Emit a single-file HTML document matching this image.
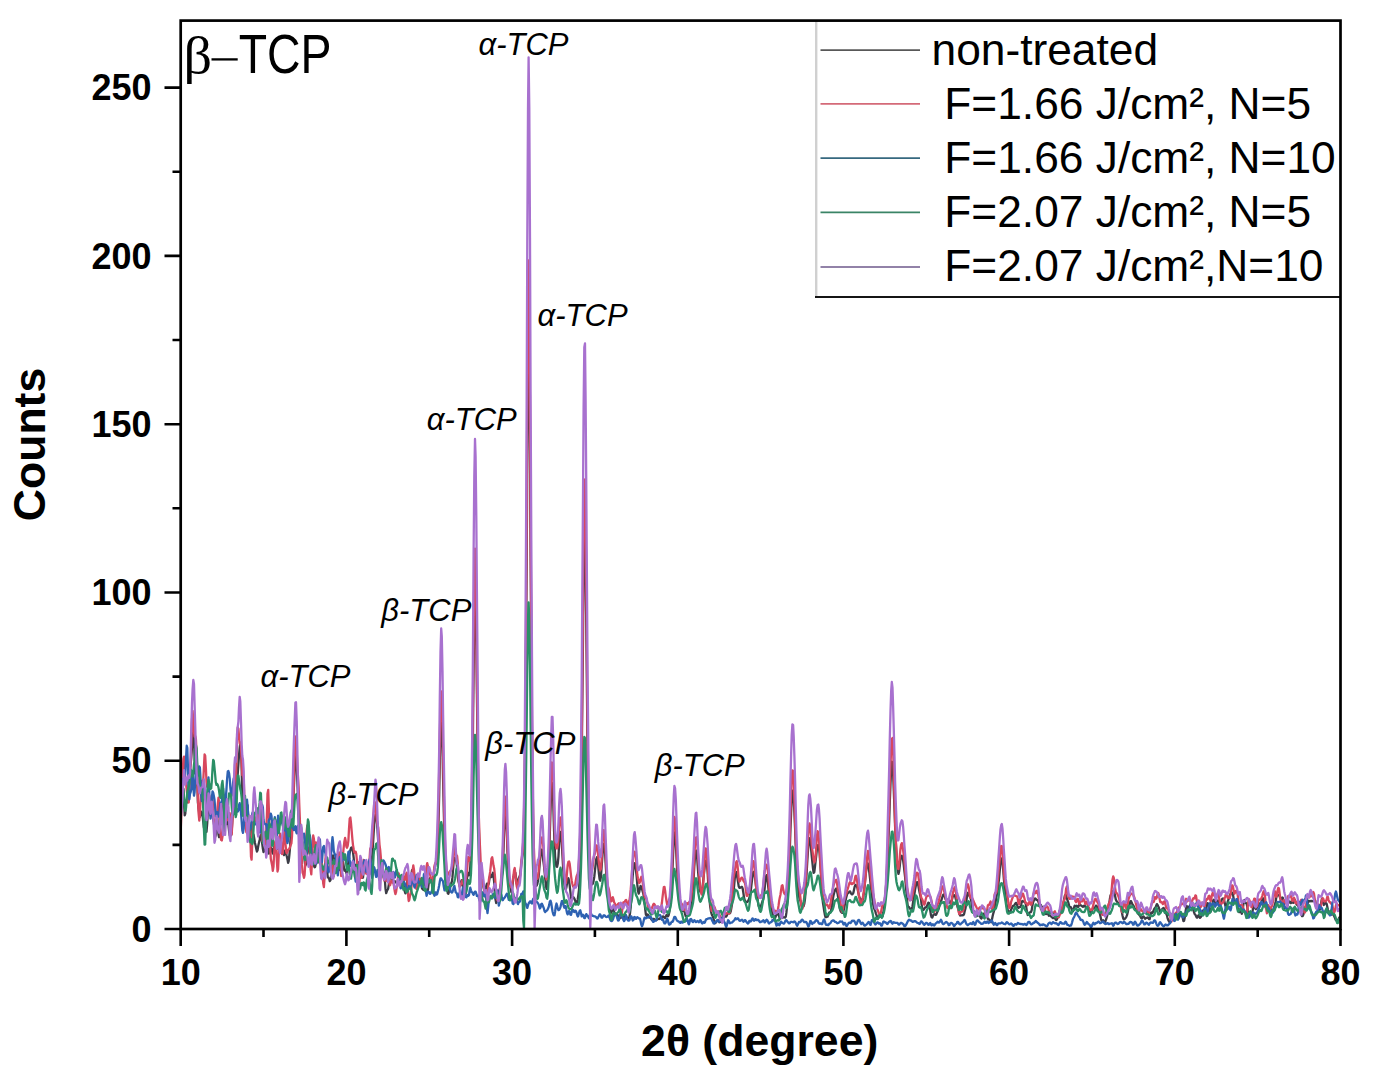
<!DOCTYPE html>
<html><head><meta charset="utf-8"><style>
html,body{margin:0;padding:0;background:#fff;width:1373px;height:1076px;overflow:hidden}
svg{display:block}
text{fill:#000}
</style></head><body>
<svg width="1373" height="1076" viewBox="0 0 1373 1076"><defs><clipPath id="c"><rect x="181" y="22" width="1159" height="907"/></clipPath></defs><g clip-path="url(#c)"><g fill="none" stroke-width="2.3" stroke-linejoin="round" style="filter:blur(0.45px)"><polyline stroke="#3c3c46" points="180.7,804.3 181.4,797.8 182.0,793.0 182.7,788.2 183.4,788.8 184.0,801.3 184.7,815.4 185.3,813.6 186.0,801.8 186.7,799.6 187.3,802.3 188.0,797.2 188.7,785.8 189.3,774.7 190.0,768.4 190.6,764.4 191.3,757.3 192.0,747.2 192.6,735.9 193.3,726.2 194.0,734.2 194.6,760.6 195.3,773.8 195.9,763.3 196.6,761.5 197.3,783.1 197.9,802.4 198.6,808.9 199.3,813.8 199.9,816.9 200.6,814.4 201.2,811.6 201.9,812.4 202.6,815.6 203.2,821.4 203.9,827.6 204.6,830.5 205.2,831.0 205.9,831.8 206.5,831.9 207.2,823.7 207.9,811.5 208.5,808.1 209.2,810.4 209.9,812.8 210.5,815.3 211.2,814.8 211.8,812.9 212.5,815.7 213.2,819.6 213.8,822.0 214.5,829.1 215.2,836.9 215.8,834.8 216.5,823.6 217.2,817.4 217.8,824.2 218.5,834.7 219.1,837.2 219.8,827.6 220.5,818.9 221.1,820.9 221.8,823.4 222.5,817.5 223.1,807.2 223.8,798.4 224.4,797.6 225.1,808.5 225.8,820.4 226.4,824.0 227.1,822.6 227.8,822.0 228.4,824.9 229.1,831.5 229.7,835.6 230.4,834.7 231.1,835.3 231.7,831.6 232.4,818.1 233.1,806.6 233.7,805.7 234.4,805.9 235.0,793.6 235.7,775.5 236.4,772.1 237.0,777.8 237.7,774.2 238.4,764.2 239.0,755.6 239.7,747.7 240.3,742.7 241.0,747.7 241.7,770.4 242.3,799.1 243.0,814.1 243.7,814.8 244.3,810.1 245.0,810.0 245.6,814.7 246.3,813.2 247.0,804.3 247.6,805.5 248.3,818.8 249.0,829.2 249.6,833.7 250.3,834.8 251.0,830.7 251.6,826.6 252.3,829.8 252.9,833.4 253.6,834.8 254.3,838.6 254.9,842.7 255.6,845.5 256.3,848.9 256.9,851.6 257.6,850.2 258.2,846.3 258.9,843.0 259.6,839.9 260.2,836.5 260.9,835.0 261.6,838.1 262.2,843.7 262.9,848.9 263.5,852.0 264.2,851.3 264.9,849.4 265.5,849.6 266.2,846.6 266.9,840.3 267.5,840.7 268.2,849.2 268.8,853.6 269.5,849.0 270.2,846.3 270.8,847.7 271.5,848.6 272.2,851.8 272.8,853.5 273.5,849.8 274.1,846.6 274.8,846.7 275.5,844.3 276.1,840.8 276.8,844.9 277.5,848.8 278.1,845.0 278.8,841.1 279.4,841.1 280.1,842.7 280.8,844.0 281.4,845.4 282.1,846.9 282.8,848.6 283.4,852.8 284.1,855.1 284.8,852.1 285.4,850.3 286.1,853.1 286.7,856.1 287.4,859.0 288.1,862.9 288.7,861.2 289.4,854.7 290.1,846.9 290.7,835.2 291.4,821.6 292.0,812.1 292.7,806.3 293.4,797.5 294.0,784.8 294.7,767.8 295.4,752.9 296.0,754.7 296.7,766.5 297.3,779.7 298.0,798.2 298.7,814.7 299.3,821.4 300.0,827.3 300.7,837.1 301.3,844.3 302.0,847.9 302.6,849.7 303.3,849.8 304.0,853.1 304.6,860.7 305.3,865.8 306.0,864.3 306.6,858.2 307.3,851.2 307.9,847.6 308.6,847.8 309.3,850.6 309.9,854.0 310.6,853.2 311.3,847.1 311.9,845.3 312.6,853.0 313.2,861.6 313.9,865.6 314.6,867.3 315.2,866.8 315.9,863.0 316.6,857.3 317.2,853.1 317.9,853.0 318.6,853.5 319.2,853.4 319.9,853.7 320.5,856.3 321.2,862.7 321.9,867.7 322.5,868.5 323.2,869.3 323.9,871.2 324.5,871.2 325.2,867.5 325.8,863.1 326.5,865.3 327.2,872.5 327.8,877.1 328.5,877.9 329.2,879.0 329.8,881.2 330.5,880.2 331.1,875.2 331.8,867.4 332.5,859.0 333.1,855.4 333.8,858.0 334.5,862.7 335.1,864.6 335.8,861.5 336.4,856.9 337.1,854.6 337.8,858.8 338.4,867.0 339.1,870.1 339.8,868.9 340.4,868.7 341.1,870.1 341.7,868.3 342.4,863.6 343.1,862.0 343.7,866.0 344.4,870.7 345.1,870.8 345.7,869.8 346.4,873.1 347.0,874.6 347.7,868.6 348.4,860.9 349.0,856.2 349.7,853.0 350.4,850.0 351.0,848.0 351.7,847.5 352.4,848.9 353.0,851.8 353.7,858.0 354.3,866.0 355.0,869.3 355.7,866.9 356.3,864.7 357.0,867.6 357.7,870.9 358.3,867.6 359.0,862.1 359.6,864.2 360.3,871.8 361.0,874.4 361.6,874.3 362.3,877.8 363.0,877.7 363.6,871.8 364.3,868.3 364.9,868.9 365.6,868.0 366.3,864.7 366.9,862.8 367.6,864.6 368.3,869.2 368.9,873.8 369.6,874.1 370.2,869.2 370.9,863.5 371.6,860.6 372.2,856.1 372.9,845.9 373.6,834.0 374.2,824.6 374.9,817.7 375.5,814.9 376.2,816.5 376.9,820.7 377.5,829.4 378.2,841.5 378.9,854.0 379.5,865.3 380.2,871.1 380.8,870.7 381.5,871.2 382.2,874.5 382.8,874.6 383.5,872.3 384.2,873.1 384.8,879.2 385.5,888.7 386.2,893.2 386.8,891.3 387.5,889.8 388.1,888.9 388.8,884.6 389.5,878.4 390.1,876.3 390.8,877.5 391.5,878.1 392.1,879.3 392.8,881.5 393.4,882.6 394.1,882.0 394.8,881.1 395.4,881.6 396.1,882.5 396.8,883.3 397.4,884.3 398.1,883.1 398.7,880.0 399.4,878.3 400.1,878.0 400.7,878.1 401.4,880.7 402.1,884.5 402.7,885.4 403.4,884.6 404.0,886.7 404.7,891.2 405.4,893.4 406.0,891.3 406.7,885.9 407.4,879.3 408.0,876.3 408.7,878.8 409.3,883.8 410.0,886.5 410.7,883.2 411.3,875.7 412.0,870.2 412.7,870.9 413.3,875.0 414.0,879.2 414.6,883.4 415.3,886.5 416.0,885.9 416.6,882.5 417.3,879.8 418.0,879.1 418.6,878.2 419.3,878.2 420.0,879.8 420.6,881.3 421.3,884.3 421.9,887.9 422.6,889.3 423.3,889.7 423.9,890.1 424.6,889.6 425.3,888.7 425.9,889.4 426.6,891.3 427.2,892.2 427.9,890.0 428.6,884.4 429.2,879.5 429.9,878.1 430.6,879.0 431.2,881.0 431.9,883.0 432.5,881.8 433.2,877.6 433.9,873.0 434.5,868.7 435.2,865.5 435.9,863.3 436.5,858.4 437.2,850.1 437.8,839.3 438.5,821.9 439.2,794.4 439.8,760.2 440.5,730.6 441.2,717.3 441.8,724.4 442.5,747.9 443.1,780.2 443.8,812.2 444.5,837.3 445.1,855.6 445.8,868.1 446.5,876.9 447.1,886.5 447.8,893.4 448.4,893.7 449.1,891.2 449.8,889.3 450.4,886.5 451.1,883.5 451.8,881.8 452.4,877.9 453.1,869.1 453.8,860.5 454.4,857.9 455.1,858.2 455.7,858.8 456.4,861.6 457.1,867.6 457.7,875.2 458.4,881.1 459.1,883.7 459.7,885.9 460.4,885.8 461.0,881.7 461.7,880.1 462.4,883.3 463.0,885.6 463.7,888.2 464.4,893.6 465.0,896.6 465.7,893.3 466.3,886.0 467.0,878.3 467.7,873.1 468.3,872.9 469.0,875.3 469.7,874.1 470.3,866.0 471.0,848.9 471.6,820.3 472.3,778.9 473.0,726.9 473.6,670.2 474.3,619.1 475.0,590.4 475.6,597.7 476.3,638.2 476.9,693.3 477.6,746.2 478.3,791.8 478.9,829.3 479.6,856.0 480.3,872.2 480.9,879.4 481.6,880.1 482.2,880.2 482.9,883.2 483.6,887.3 484.2,890.0 484.9,891.1 485.6,889.9 486.2,886.4 486.9,883.7 487.5,883.9 488.2,884.9 488.9,883.2 489.5,878.7 490.2,875.1 490.9,875.8 491.5,877.0 492.2,874.6 492.9,872.8 493.5,875.8 494.2,882.5 494.8,891.4 495.5,899.6 496.2,903.0 496.8,900.9 497.5,896.4 498.2,892.6 498.8,890.8 499.5,889.8 500.1,888.3 500.8,886.0 501.5,880.9 502.1,873.0 502.8,864.0 503.5,850.9 504.1,832.8 504.8,817.8 505.4,812.6 506.1,817.5 506.8,831.4 507.4,850.1 508.1,866.3 508.8,876.3 509.4,881.1 510.1,884.1 510.7,888.6 511.4,892.3 512.1,890.3 512.7,883.4 513.4,877.1 514.1,874.0 514.7,872.3 515.4,872.9 516.0,877.6 516.7,883.4 517.4,885.6 518.0,882.5 518.7,878.5 519.4,877.0 520.0,875.2 520.7,870.8 521.3,864.7 522.0,859.4 522.7,854.0 523.3,843.4 524.0,822.6 524.7,786.3 525.3,730.1 526.0,653.4 526.7,558.8 527.3,456.4 528.0,370.1 528.6,333.2 529.3,364.0 530.0,447.2 530.6,553.8 531.3,657.1 532.0,739.7 532.6,798.7 533.3,838.2 533.9,860.8 534.6,872.8 535.3,880.7 535.9,885.2 536.6,885.7 537.3,884.0 537.9,881.3 538.6,876.8 539.2,870.2 539.9,861.9 540.6,854.0 541.2,849.6 541.9,849.9 542.6,854.1 543.2,860.0 543.9,865.2 544.5,870.9 545.2,878.3 545.9,885.4 546.5,888.9 547.2,887.6 547.9,882.0 548.5,872.2 549.2,856.3 549.8,834.2 550.5,810.9 551.2,792.3 551.8,782.7 552.5,785.9 553.2,801.1 553.8,823.0 554.5,843.4 555.1,856.3 555.8,863.2 556.5,866.7 557.1,866.8 557.8,863.6 558.5,856.1 559.1,845.0 559.8,835.8 560.5,831.9 561.1,834.1 561.8,842.7 562.4,854.9 563.1,866.9 563.8,877.1 564.4,884.4 565.1,888.6 565.8,889.5 566.4,887.2 567.1,882.7 567.7,878.8 568.4,878.2 569.1,881.1 569.7,885.7 570.4,891.8 571.1,897.9 571.7,899.7 572.4,898.1 573.0,897.0 573.7,897.5 574.4,898.7 575.0,900.2 575.7,902.3 576.4,904.0 577.0,903.1 577.7,899.7 578.3,895.2 579.0,889.6 579.7,878.0 580.3,853.7 581.0,814.9 581.7,764.0 582.3,703.8 583.0,637.7 583.6,574.6 584.3,532.5 585.0,529.8 585.6,566.2 586.3,627.2 587.0,695.7 587.6,757.9 588.3,806.8 588.9,841.2 589.6,862.9 590.3,875.4 590.9,881.5 591.6,883.8 592.3,884.3 592.9,883.6 593.6,880.9 594.3,876.7 594.9,871.0 595.6,864.6 596.2,859.3 596.9,857.3 597.6,860.0 598.2,866.4 598.9,873.7 599.6,879.1 600.2,880.7 600.9,877.1 601.5,868.8 602.2,859.0 602.9,849.9 603.5,843.9 604.2,843.8 604.9,850.0 605.5,860.9 606.2,873.3 606.8,883.9 607.5,891.3 608.2,896.8 608.8,902.0 609.5,907.3 610.2,911.4 610.8,912.9 611.5,912.1 612.1,910.0 612.8,908.7 613.5,909.9 614.1,911.9 614.8,913.2 615.5,914.2 616.1,914.9 616.8,914.8 617.4,914.8 618.1,915.7 618.8,916.5 619.4,917.3 620.1,918.2 620.8,917.9 621.4,916.3 622.1,915.0 622.7,915.6 623.4,917.7 624.1,917.9 624.7,915.6 625.4,914.8 626.1,916.5 626.7,918.2 627.4,918.8 628.1,919.1 628.7,918.7 629.4,917.0 630.0,913.4 630.7,907.0 631.4,897.1 632.0,885.9 632.7,876.0 633.4,868.2 634.0,863.7 634.7,863.3 635.3,865.9 636.0,870.5 636.7,876.9 637.3,884.4 638.0,890.9 638.7,893.6 639.3,891.8 640.0,888.0 640.6,885.8 641.3,886.8 642.0,889.2 642.6,891.3 643.3,893.5 644.0,897.9 644.6,903.9 645.3,909.9 645.9,914.6 646.6,915.7 647.3,914.5 647.9,914.6 648.6,916.3 649.3,917.5 649.9,917.0 650.6,917.3 651.2,919.0 651.9,920.0 652.6,919.5 653.2,918.8 653.9,918.8 654.6,919.5 655.2,920.0 655.9,920.1 656.5,919.9 657.2,919.5 657.9,918.9 658.5,918.8 659.2,919.1 659.9,918.7 660.5,917.9 661.2,917.7 661.9,917.4 662.5,916.6 663.2,916.4 663.8,917.0 664.5,917.9 665.2,918.0 665.8,916.4 666.5,915.0 667.2,915.5 667.8,916.4 668.5,915.6 669.1,913.3 669.8,909.4 670.5,903.6 671.1,895.0 671.8,883.0 672.5,869.1 673.1,854.4 673.8,840.8 674.4,832.4 675.1,833.2 675.8,842.4 676.4,855.8 677.1,869.4 677.8,880.3 678.4,888.4 679.1,895.2 679.7,901.5 680.4,906.8 681.1,909.9 681.7,910.8 682.4,910.7 683.1,910.9 683.7,911.0 684.4,911.5 685.0,913.8 685.7,916.1 686.4,916.3 687.0,915.9 687.7,915.8 688.4,915.2 689.0,913.3 689.7,910.6 690.3,907.8 691.0,905.6 691.7,903.3 692.3,898.1 693.0,888.9 693.7,877.4 694.3,866.2 695.0,857.2 695.7,851.7 696.3,850.6 697.0,855.4 697.6,864.6 698.3,874.1 699.0,882.2 699.6,888.5 700.3,891.8 701.0,892.1 701.6,891.1 702.3,889.0 702.9,884.1 703.6,876.9 704.3,870.3 704.9,865.3 705.6,861.6 706.3,860.4 706.9,863.6 707.6,872.0 708.2,883.0 708.9,892.9 709.6,900.4 710.2,906.6 710.9,911.2 711.6,913.9 712.2,915.5 712.9,916.6 713.5,918.5 714.2,921.3 714.9,923.0 715.5,923.0 716.2,921.8 716.9,920.9 717.5,920.4 718.2,920.2 718.8,921.2 719.5,922.3 720.2,922.0 720.8,921.6 721.5,922.0 722.2,921.8 722.8,920.2 723.5,918.0 724.1,916.7 724.8,916.4 725.5,916.5 726.1,916.7 726.8,915.6 727.5,913.8 728.1,913.0 728.8,912.9 729.5,913.4 730.1,913.2 730.8,911.1 731.4,907.7 732.1,903.8 732.8,899.0 733.4,893.1 734.1,885.8 734.8,878.0 735.4,872.7 736.1,871.9 736.7,874.4 737.4,877.9 738.1,882.3 738.7,886.3 739.4,887.9 740.1,887.8 740.7,887.4 741.4,886.9 742.0,886.8 742.7,888.7 743.4,893.0 744.0,897.6 744.7,900.1 745.4,901.2 746.0,902.0 746.7,902.2 747.3,901.9 748.0,901.1 748.7,899.8 749.3,898.2 750.0,895.4 750.7,891.5 751.3,886.2 752.0,880.2 752.6,874.9 753.3,871.9 754.0,872.2 754.6,875.1 755.3,879.9 756.0,885.8 756.6,891.9 757.3,897.3 757.9,901.9 758.6,905.8 759.3,907.6 759.9,907.0 760.6,906.0 761.3,905.0 761.9,903.0 762.6,900.8 763.3,899.0 763.9,895.5 764.6,889.1 765.2,882.0 765.9,876.8 766.6,875.1 767.2,877.8 767.9,883.7 768.6,890.1 769.2,894.4 769.9,897.3 770.5,901.2 771.2,906.3 771.9,910.6 772.5,913.5 773.2,915.5 773.9,917.5 774.5,918.6 775.2,917.8 775.8,916.1 776.5,914.8 777.2,913.8 777.8,913.5 778.5,914.3 779.2,916.6 779.8,918.8 780.5,918.5 781.1,917.3 781.8,917.6 782.5,917.8 783.1,917.4 783.8,917.2 784.5,917.3 785.1,917.6 785.8,916.6 786.4,912.7 787.1,905.6 787.8,895.5 788.4,883.1 789.1,868.4 789.8,850.5 790.4,830.9 791.1,813.1 791.7,798.9 792.4,790.6 793.1,791.0 793.7,799.4 794.4,812.7 795.1,828.6 795.7,845.5 796.4,862.2 797.1,876.4 797.7,886.0 798.4,891.9 799.0,896.3 799.7,899.2 800.4,900.8 801.0,902.9 801.7,905.7 802.4,907.0 803.0,906.8 803.7,906.0 804.3,903.8 805.0,898.9 805.7,890.7 806.3,879.0 807.0,866.4 807.7,855.3 808.3,846.1 809.0,839.6 809.6,838.2 810.3,841.7 811.0,848.0 811.6,855.0 812.3,861.7 813.0,868.3 813.6,872.8 814.3,872.2 814.9,867.3 815.6,861.1 816.3,855.1 816.9,849.4 817.6,845.5 818.3,845.0 818.9,847.7 819.6,853.3 820.2,862.5 820.9,874.1 821.6,885.8 822.2,895.7 822.9,902.5 823.6,906.9 824.2,911.0 824.9,914.9 825.5,917.1 826.2,917.1 826.9,916.8 827.5,916.7 828.2,915.3 828.9,913.1 829.5,912.3 830.2,912.4 830.9,911.5 831.5,908.6 832.2,904.0 832.8,899.4 833.5,895.6 834.2,892.7 834.8,890.9 835.5,889.3 836.2,888.5 836.8,890.1 837.5,893.4 838.1,897.1 838.8,901.6 839.5,906.4 840.1,909.7 840.8,911.5 841.5,912.4 842.1,912.8 842.8,912.8 843.4,911.4 844.1,908.5 844.8,904.8 845.4,901.2 846.1,897.9 846.8,895.4 847.4,893.6 848.1,893.0 848.7,892.6 849.4,891.6 850.1,891.4 850.7,892.7 851.4,894.1 852.1,894.3 852.7,894.1 853.4,892.7 854.0,889.7 854.7,886.6 855.4,885.0 856.0,885.1 856.7,886.0 857.4,887.9 858.0,891.1 858.7,894.6 859.3,897.0 860.0,898.1 860.7,899.1 861.3,900.1 862.0,900.6 862.7,899.9 863.3,897.2 864.0,892.1 864.7,885.5 865.3,878.7 866.0,871.9 866.6,865.9 867.3,862.8 868.0,863.9 868.6,867.6 869.3,872.2 870.0,878.1 870.6,884.5 871.3,890.0 871.9,895.2 872.6,900.6 873.3,905.1 873.9,908.1 874.6,909.6 875.3,911.3 875.9,913.6 876.6,915.4 877.2,917.0 877.9,918.3 878.6,917.6 879.2,916.0 879.9,916.0 880.6,916.4 881.2,916.9 881.9,917.3 882.5,916.4 883.2,913.1 883.9,908.8 884.5,904.2 885.2,897.7 885.9,889.0 886.5,879.2 887.2,867.9 887.8,853.8 888.5,837.8 889.2,820.8 889.8,802.0 890.5,783.4 891.2,769.3 891.8,761.7 892.5,762.5 893.1,773.0 893.8,790.6 894.5,809.5 895.1,826.4 895.8,840.5 896.5,853.2 897.1,864.3 897.8,871.4 898.5,873.9 899.1,871.5 899.8,865.7 900.4,859.6 901.1,856.2 901.8,855.8 902.4,857.2 903.1,860.4 903.8,865.3 904.4,871.2 905.1,877.2 905.7,883.9 906.4,892.1 907.1,900.4 907.7,905.6 908.4,907.1 909.1,907.2 909.7,908.2 910.4,909.2 911.0,909.6 911.7,909.1 912.4,906.7 913.0,902.7 913.7,898.5 914.4,894.4 915.0,890.1 915.7,886.6 916.3,884.0 917.0,882.1 917.7,882.3 918.3,885.4 919.0,889.6 919.7,892.9 920.3,895.5 921.0,899.4 921.6,904.6 922.3,908.4 923.0,909.9 923.6,909.8 924.3,908.8 925.0,907.6 925.6,907.3 926.3,907.2 926.9,906.1 927.6,904.3 928.3,902.7 928.9,902.8 929.6,906.1 930.3,910.9 930.9,914.9 931.6,917.3 932.3,917.5 932.9,915.9 933.6,914.7 934.2,914.3 934.9,914.2 935.6,914.8 936.2,914.6 936.9,912.9 937.6,911.3 938.2,910.0 938.9,908.0 939.5,905.5 940.2,903.1 940.9,901.5 941.5,900.0 942.2,897.6 942.9,895.2 943.5,894.5 944.2,895.0 944.8,896.7 945.5,899.0 946.2,900.0 946.8,899.8 947.5,899.6 948.2,899.6 948.8,900.0 949.5,901.3 950.1,902.8 950.8,903.3 951.5,901.8 952.1,898.9 952.8,896.5 953.5,895.4 954.1,895.2 954.8,895.8 955.4,897.4 956.1,900.2 956.8,903.6 957.4,906.4 958.1,908.4 958.8,910.8 959.4,914.1 960.1,915.5 960.7,915.2 961.4,915.3 962.1,915.3 962.7,915.1 963.4,915.1 964.1,913.9 964.7,911.3 965.4,908.7 966.1,904.7 966.7,898.6 967.4,894.0 968.0,892.7 968.7,893.8 969.4,895.6 970.0,897.1 970.7,898.5 971.4,901.7 972.0,906.7 972.7,910.6 973.3,911.5 974.0,911.1 974.7,912.0 975.3,913.9 976.0,915.6 976.7,916.0 977.3,915.5 978.0,915.2 978.6,915.4 979.3,915.6 980.0,916.3 980.6,917.8 981.3,918.6 982.0,917.6 982.6,915.4 983.3,913.7 983.9,913.8 984.6,915.1 985.3,915.7 985.9,915.1 986.6,915.6 987.3,917.4 987.9,918.9 988.6,919.5 989.2,919.5 989.9,920.2 990.6,921.9 991.2,922.2 991.9,919.7 992.6,916.3 993.2,913.8 993.9,911.4 994.5,908.1 995.2,904.2 995.9,900.2 996.5,896.6 997.2,893.3 997.9,889.0 998.5,883.5 999.2,877.1 999.9,869.2 1000.5,861.8 1001.2,858.3 1001.8,859.1 1002.5,863.1 1003.2,870.0 1003.8,878.1 1004.5,885.5 1005.2,892.3 1005.8,898.8 1006.5,904.0 1007.1,907.3 1007.8,909.6 1008.5,911.7 1009.1,913.3 1009.8,912.9 1010.5,911.1 1011.1,909.6 1011.8,908.3 1012.4,906.6 1013.1,905.9 1013.8,905.7 1014.4,905.0 1015.1,904.0 1015.8,902.8 1016.4,902.8 1017.1,904.9 1017.7,907.4 1018.4,908.0 1019.1,907.4 1019.7,907.1 1020.4,906.9 1021.1,905.1 1021.7,902.1 1022.4,900.9 1023.0,901.7 1023.7,901.6 1024.4,901.0 1025.0,901.5 1025.7,903.8 1026.4,907.9 1027.0,912.3 1027.7,915.0 1028.3,914.8 1029.0,913.0 1029.7,912.3 1030.3,912.4 1031.0,912.0 1031.7,910.1 1032.3,906.3 1033.0,902.6 1033.7,900.8 1034.3,899.7 1035.0,898.5 1035.6,898.6 1036.3,899.7 1037.0,900.1 1037.6,900.1 1038.3,901.3 1039.0,903.6 1039.6,905.3 1040.3,905.1 1040.9,905.0 1041.6,906.3 1042.3,907.3 1042.9,907.2 1043.6,908.1 1044.3,910.3 1044.9,912.4 1045.6,913.9 1046.2,914.1 1046.9,912.5 1047.6,912.0 1048.2,914.2 1048.9,915.8 1049.6,915.5 1050.2,915.6 1050.9,916.3 1051.5,916.9 1052.2,917.5 1052.9,918.0 1053.5,918.0 1054.2,917.7 1054.9,918.0 1055.5,919.2 1056.2,920.1 1056.8,919.6 1057.5,918.1 1058.2,916.7 1058.8,915.5 1059.5,913.9 1060.2,912.5 1060.8,911.8 1061.5,911.3 1062.1,910.3 1062.8,907.7 1063.5,903.6 1064.1,899.2 1064.8,895.8 1065.5,894.6 1066.1,895.8 1066.8,898.1 1067.4,900.0 1068.1,901.8 1068.8,904.4 1069.4,906.7 1070.1,907.1 1070.8,907.1 1071.4,908.4 1072.1,910.5 1072.8,911.4 1073.4,910.2 1074.1,907.4 1074.7,905.7 1075.4,906.2 1076.1,906.5 1076.7,905.7 1077.4,906.0 1078.1,907.1 1078.7,905.9 1079.4,904.1 1080.0,904.3 1080.7,905.3 1081.4,905.7 1082.0,906.1 1082.7,906.8 1083.4,906.6 1084.0,905.7 1084.7,905.7 1085.3,906.6 1086.0,907.3 1086.7,906.8 1087.3,906.7 1088.0,907.6 1088.7,908.4 1089.3,909.5 1090.0,911.5 1090.6,912.7 1091.3,912.1 1092.0,910.6 1092.6,909.1 1093.3,908.0 1094.0,908.0 1094.6,908.3 1095.3,907.2 1095.9,905.7 1096.6,905.9 1097.3,907.4 1097.9,908.9 1098.6,910.1 1099.3,911.4 1099.9,913.8 1100.6,917.0 1101.2,919.8 1101.9,921.1 1102.6,920.7 1103.2,920.3 1103.9,921.6 1104.6,922.8 1105.2,922.0 1105.9,919.9 1106.6,917.8 1107.2,915.7 1107.9,912.8 1108.5,908.8 1109.2,903.9 1109.9,898.7 1110.5,895.4 1111.2,894.7 1111.9,894.8 1112.5,893.2 1113.2,890.9 1113.8,890.5 1114.5,892.9 1115.2,896.5 1115.8,899.5 1116.5,901.0 1117.2,901.9 1117.8,902.6 1118.5,902.8 1119.1,903.5 1119.8,904.9 1120.5,906.1 1121.1,908.3 1121.8,911.8 1122.5,915.5 1123.1,918.1 1123.8,919.3 1124.4,919.3 1125.1,918.6 1125.8,917.8 1126.4,916.7 1127.1,914.9 1127.8,911.9 1128.4,909.1 1129.1,906.9 1129.7,904.1 1130.4,901.4 1131.1,901.1 1131.7,902.8 1132.4,904.3 1133.1,905.2 1133.7,906.2 1134.4,907.8 1135.0,908.8 1135.7,909.5 1136.4,910.5 1137.0,911.5 1137.7,912.7 1138.4,913.8 1139.0,914.6 1139.7,915.4 1140.4,916.5 1141.0,917.9 1141.7,918.5 1142.3,917.7 1143.0,916.6 1143.7,916.5 1144.3,917.7 1145.0,918.7 1145.7,918.2 1146.3,917.8 1147.0,917.8 1147.6,917.4 1148.3,917.6 1149.0,919.1 1149.6,919.2 1150.3,916.2 1151.0,912.9 1151.6,912.4 1152.3,913.0 1152.9,912.2 1153.6,910.4 1154.3,908.8 1154.9,908.1 1155.6,907.4 1156.3,905.4 1156.9,904.1 1157.6,904.9 1158.2,906.3 1158.9,907.7 1159.6,910.1 1160.2,911.9 1160.9,911.8 1161.6,910.3 1162.2,909.0 1162.9,908.4 1163.5,908.0 1164.2,908.4 1164.9,910.2 1165.5,912.4 1166.2,913.8 1166.9,915.3 1167.5,917.8 1168.2,919.9 1168.8,921.0 1169.5,922.0 1170.2,922.3 1170.8,920.3 1171.5,917.3 1172.2,916.8 1172.8,918.2 1173.5,918.2 1174.2,917.1 1174.8,916.2 1175.5,915.8 1176.1,915.6 1176.8,915.4 1177.5,915.5 1178.1,916.8 1178.8,917.4 1179.5,915.6 1180.1,913.6 1180.8,913.8 1181.4,914.9 1182.1,916.0 1182.8,918.2 1183.4,921.1 1184.1,920.9 1184.8,917.3 1185.4,912.6 1186.1,907.9 1186.7,905.9 1187.4,907.3 1188.1,908.3 1188.7,907.3 1189.4,906.2 1190.1,905.4 1190.7,903.9 1191.4,903.8 1192.0,906.1 1192.7,908.6 1193.4,910.2 1194.0,912.2 1194.7,914.0 1195.4,914.7 1196.0,916.1 1196.7,917.6 1197.3,917.5 1198.0,915.8 1198.7,915.2 1199.3,916.7 1200.0,917.8 1200.7,917.2 1201.3,915.9 1202.0,914.1 1202.6,911.9 1203.3,910.2 1204.0,910.2 1204.6,911.6 1205.3,911.9 1206.0,909.8 1206.6,905.9 1207.3,903.2 1208.0,903.3 1208.6,905.1 1209.3,908.3 1209.9,911.1 1210.6,911.7 1211.3,910.2 1211.9,907.1 1212.6,903.1 1213.3,900.1 1213.9,899.7 1214.6,901.5 1215.2,903.7 1215.9,904.4 1216.6,903.2 1217.2,901.5 1217.9,900.5 1218.6,900.8 1219.2,903.0 1219.9,905.3 1220.5,904.9 1221.2,901.9 1221.9,899.2 1222.5,898.6 1223.2,898.5 1223.9,899.1 1224.5,901.8 1225.2,905.1 1225.8,907.2 1226.5,906.9 1227.2,904.3 1227.8,901.3 1228.5,899.3 1229.2,897.4 1229.8,895.0 1230.5,893.8 1231.1,894.1 1231.8,893.5 1232.5,892.8 1233.1,895.2 1233.8,899.5 1234.5,901.9 1235.1,902.6 1235.8,902.9 1236.4,903.1 1237.1,904.8 1237.8,908.4 1238.4,911.6 1239.1,912.2 1239.8,910.8 1240.4,910.1 1241.1,912.0 1241.8,913.8 1242.4,912.2 1243.1,907.0 1243.7,901.5 1244.4,900.0 1245.1,901.9 1245.7,903.0 1246.4,903.3 1247.1,905.7 1247.7,910.4 1248.4,914.5 1249.0,916.3 1249.7,915.6 1250.4,913.4 1251.0,912.7 1251.7,913.4 1252.4,912.1 1253.0,908.8 1253.7,906.0 1254.3,905.4 1255.0,907.2 1255.7,909.1 1256.3,908.8 1257.0,907.4 1257.7,906.4 1258.3,904.7 1259.0,903.2 1259.6,904.0 1260.3,905.2 1261.0,903.8 1261.6,901.2 1262.3,899.2 1263.0,898.1 1263.6,899.4 1264.3,902.9 1264.9,905.8 1265.6,907.5 1266.3,908.0 1266.9,907.4 1267.6,906.7 1268.3,907.2 1268.9,908.4 1269.6,908.3 1270.2,907.8 1270.9,909.4 1271.6,911.1 1272.2,911.3 1272.9,910.5 1273.6,909.1 1274.2,907.2 1274.9,904.9 1275.6,901.8 1276.2,898.0 1276.9,895.3 1277.5,894.8 1278.2,895.1 1278.9,895.2 1279.5,896.1 1280.2,898.2 1280.9,899.6 1281.5,898.8 1282.2,897.5 1282.8,897.8 1283.5,901.3 1284.2,906.0 1284.8,908.0 1285.5,907.6 1286.2,907.5 1286.8,907.0 1287.5,905.4 1288.1,903.5 1288.8,902.2 1289.5,901.4 1290.1,901.8 1290.8,903.1 1291.5,902.8 1292.1,902.0 1292.8,902.7 1293.4,902.8 1294.1,900.7 1294.8,899.6 1295.4,901.4 1296.1,903.5 1296.8,904.7 1297.4,905.2 1298.1,905.5 1298.7,905.9 1299.4,907.3 1300.1,909.7 1300.7,912.1 1301.4,914.5 1302.1,916.2 1302.7,916.1 1303.4,914.5 1304.0,912.3 1304.7,909.3 1305.4,906.9 1306.0,906.1 1306.7,905.8 1307.4,904.4 1308.0,902.1 1308.7,900.8 1309.4,901.2 1310.0,901.4 1310.7,900.8 1311.3,900.8 1312.0,901.3 1312.7,901.2 1313.3,901.0 1314.0,901.1 1314.7,900.4 1315.3,900.7 1316.0,904.4 1316.6,908.3 1317.3,908.9 1318.0,908.4 1318.6,909.3 1319.3,910.2 1320.0,909.0 1320.6,906.1 1321.3,902.0 1321.9,898.6 1322.6,898.9 1323.3,902.7 1323.9,905.0 1324.6,903.9 1325.3,902.9 1325.9,903.1 1326.6,903.7 1327.2,906.2 1327.9,909.8 1328.6,911.9 1329.2,912.4 1329.9,912.8 1330.6,913.7 1331.2,914.7 1331.9,914.5 1332.5,914.0 1333.2,914.5 1333.9,915.6 1334.5,916.9 1335.2,918.7 1335.9,920.2 1336.5,920.3 1337.2,920.2 1337.8,920.1 1338.5,919.2 1339.2,917.6 1339.8,917.4 1340.5,917.8"/><polyline stroke="#d8475e" points="180.7,830.9 181.4,813.4 182.0,790.6 182.7,772.0 183.4,758.7 184.0,756.6 184.7,769.3 185.3,780.1 186.0,783.7 186.7,789.7 187.3,795.4 188.0,800.0 188.7,802.5 189.3,795.8 190.0,778.7 190.6,762.4 191.3,743.2 192.0,719.7 192.6,710.9 193.3,720.3 194.0,732.0 194.6,736.5 195.3,736.2 195.9,738.8 196.6,753.3 197.3,777.3 197.9,798.6 198.6,813.4 199.3,820.7 199.9,815.3 200.6,799.5 201.2,784.2 201.9,780.8 202.6,785.2 203.2,781.9 203.9,767.6 204.6,754.4 205.2,755.7 205.9,768.4 206.5,781.8 207.2,786.9 207.9,785.9 208.5,788.9 209.2,798.6 209.9,807.4 210.5,807.3 211.2,801.0 211.8,795.5 212.5,798.8 213.2,810.3 213.8,822.0 214.5,827.8 215.2,829.6 215.8,827.4 216.5,821.2 217.2,813.5 217.8,804.1 218.5,797.7 219.1,802.7 219.8,819.0 220.5,834.5 221.1,839.9 221.8,840.5 222.5,836.4 223.1,824.7 223.8,815.1 224.4,807.7 225.1,800.1 225.8,801.1 226.4,812.0 227.1,820.2 227.8,819.4 228.4,817.5 229.1,815.5 229.7,813.1 230.4,821.2 231.1,833.9 231.7,834.3 232.4,821.9 233.1,807.0 233.7,805.1 234.4,813.0 235.0,809.8 235.7,790.5 236.4,763.3 237.0,738.7 237.7,727.4 238.4,728.5 239.0,736.2 239.7,743.3 240.3,742.7 241.0,746.6 241.7,762.7 242.3,775.2 243.0,775.0 243.7,778.3 244.3,796.2 245.0,813.8 245.6,824.0 246.3,832.1 247.0,833.0 247.6,828.5 248.3,825.1 249.0,822.7 249.6,822.8 250.3,836.2 251.0,856.7 251.6,859.7 252.3,840.7 252.9,821.8 253.6,818.5 254.3,822.3 254.9,821.6 255.6,817.3 256.3,817.4 256.9,821.9 257.6,820.7 258.2,811.8 258.9,808.3 259.6,807.8 260.2,804.0 260.9,812.1 261.6,832.0 262.2,840.8 262.9,833.8 263.5,832.0 264.2,841.7 264.9,845.6 265.5,839.1 266.2,831.2 266.9,815.2 267.5,793.7 268.2,789.9 268.8,807.5 269.5,829.2 270.2,846.9 270.8,858.8 271.5,862.2 272.2,865.7 272.8,870.9 273.5,866.6 274.1,853.7 274.8,843.9 275.5,841.1 276.1,846.3 276.8,859.9 277.5,871.5 278.1,869.1 278.8,853.2 279.4,838.0 280.1,833.6 280.8,838.9 281.4,848.2 282.1,854.2 282.8,853.1 283.4,841.8 284.1,827.5 284.8,828.5 285.4,842.1 286.1,851.2 286.7,853.2 287.4,852.0 288.1,849.7 288.7,849.4 289.4,848.9 290.1,846.7 290.7,845.0 291.4,843.4 292.0,836.3 292.7,820.6 293.4,799.4 294.0,776.0 294.7,752.3 295.4,736.5 296.0,737.4 296.7,750.4 297.3,765.0 298.0,776.9 298.7,788.0 299.3,805.4 300.0,822.4 300.7,832.0 301.3,846.4 302.0,864.9 302.6,872.7 303.3,874.7 304.0,877.8 304.6,874.9 305.3,863.1 306.0,846.6 306.6,831.5 307.3,825.3 307.9,829.7 308.6,836.0 309.3,843.2 309.9,855.2 310.6,869.3 311.3,874.4 311.9,863.4 312.6,845.2 313.2,835.5 313.9,838.8 314.6,846.8 315.2,847.9 315.9,842.3 316.6,843.7 317.2,854.5 317.9,862.5 318.6,860.7 319.2,854.2 319.9,853.3 320.5,856.6 321.2,858.6 321.9,863.0 322.5,872.9 323.2,883.4 323.9,887.1 324.5,878.4 325.2,861.9 325.8,855.2 326.5,861.6 327.2,865.7 327.8,866.7 328.5,869.7 329.2,871.0 329.8,868.4 330.5,864.5 331.1,863.1 331.8,862.2 332.5,863.7 333.1,871.3 333.8,876.3 334.5,870.4 335.1,861.6 335.8,860.0 336.4,864.2 337.1,866.7 337.8,862.9 338.4,856.7 339.1,852.4 339.8,853.9 340.4,864.8 341.1,876.0 341.7,874.7 342.4,863.5 343.1,853.9 343.7,847.4 344.4,841.5 345.1,837.9 345.7,840.8 346.4,846.6 347.0,847.7 347.7,845.8 348.4,840.7 349.0,828.9 349.7,818.6 350.4,817.5 351.0,823.0 351.7,831.1 352.4,839.4 353.0,845.1 353.7,849.2 354.3,852.2 355.0,852.9 355.7,851.8 356.3,854.0 357.0,861.3 357.7,871.6 358.3,883.4 359.0,887.2 359.6,880.0 360.3,873.3 361.0,874.6 361.6,877.8 362.3,873.8 363.0,865.0 363.6,859.9 364.3,861.7 364.9,867.3 365.6,872.5 366.3,873.8 366.9,871.9 367.6,871.9 368.3,874.1 368.9,870.3 369.6,858.4 370.2,848.9 370.9,847.5 371.6,847.5 372.2,841.2 372.9,828.0 373.6,813.3 374.2,803.3 374.9,802.3 375.5,807.2 376.2,813.7 376.9,820.7 377.5,824.7 378.2,827.2 378.9,835.3 379.5,844.6 380.2,849.8 380.8,856.9 381.5,864.2 382.2,867.2 382.8,871.1 383.5,877.7 384.2,880.4 384.8,878.1 385.5,878.9 386.2,881.0 386.8,876.9 387.5,873.6 388.1,876.0 388.8,880.2 389.5,884.0 390.1,885.3 390.8,882.3 391.5,880.5 392.1,882.2 392.8,882.5 393.4,882.8 394.1,886.5 394.8,891.4 395.4,894.1 396.1,891.9 396.8,886.8 397.4,882.3 398.1,877.0 398.7,873.5 399.4,878.1 400.1,885.0 400.7,887.4 401.4,885.1 402.1,881.3 402.7,878.2 403.4,875.7 404.0,876.9 404.7,880.2 405.4,879.2 406.0,874.4 406.7,872.8 407.4,881.3 408.0,894.1 408.7,901.0 409.3,899.9 410.0,895.9 410.7,892.9 411.3,888.7 412.0,880.1 412.7,869.6 413.3,865.3 414.0,869.9 414.6,876.8 415.3,883.0 416.0,888.2 416.6,889.1 417.3,884.7 418.0,880.0 418.6,879.2 419.3,879.5 420.0,878.5 420.6,879.1 421.3,881.5 421.9,883.8 422.6,884.1 423.3,882.4 423.9,882.6 424.6,885.0 425.3,882.9 425.9,874.6 426.6,866.2 427.2,863.1 427.9,866.3 428.6,870.2 429.2,872.1 429.9,873.5 430.6,876.8 431.2,881.7 431.9,883.4 432.5,881.1 433.2,876.7 433.9,870.9 434.5,865.7 435.2,863.2 435.9,862.8 436.5,861.1 437.2,852.6 437.8,833.3 438.5,803.7 439.2,769.3 439.8,736.2 440.5,707.6 441.2,691.3 441.8,697.3 442.5,721.7 443.1,754.4 443.8,791.3 444.5,825.6 445.1,847.6 445.8,859.3 446.5,868.4 447.1,874.6 447.8,875.0 448.4,872.9 449.1,872.3 449.8,871.5 450.4,870.8 451.1,870.4 451.8,868.8 452.4,866.3 453.1,862.2 453.8,855.0 454.4,848.2 455.1,848.1 455.7,852.9 456.4,855.3 457.1,856.1 457.7,862.3 458.4,873.5 459.1,883.3 459.7,886.9 460.4,885.3 461.0,884.2 461.7,883.1 462.4,880.2 463.0,880.7 463.7,884.8 464.4,886.4 465.0,883.6 465.7,879.8 466.3,876.7 467.0,871.1 467.7,862.5 468.3,856.9 469.0,857.1 469.7,860.7 470.3,859.0 471.0,841.0 471.6,805.2 472.3,756.4 473.0,697.9 473.6,633.8 474.3,577.0 475.0,548.7 475.6,562.9 476.3,610.9 476.9,672.7 477.6,733.7 478.3,783.7 478.9,817.9 479.6,838.5 480.3,853.0 480.9,867.2 481.6,878.4 482.2,883.2 482.9,884.7 483.6,886.8 484.2,890.6 484.9,894.1 485.6,896.6 486.2,899.2 486.9,899.7 487.5,894.8 488.2,886.3 488.9,879.5 489.5,876.0 490.2,871.7 490.9,864.7 491.5,858.6 492.2,857.3 492.9,861.1 493.5,865.6 494.2,868.6 494.8,874.2 495.5,883.4 496.2,892.5 496.8,898.5 497.5,900.2 498.2,899.1 498.8,896.7 499.5,893.4 500.1,888.7 500.8,881.9 501.5,873.8 502.1,865.2 502.8,854.2 503.5,836.4 504.1,814.2 504.8,798.5 505.4,796.6 506.1,807.9 506.8,827.1 507.4,845.0 508.1,856.8 508.8,867.1 509.4,878.0 510.1,884.2 510.7,886.5 511.4,887.5 512.1,885.1 512.7,880.7 513.4,875.9 514.1,870.0 514.7,868.0 515.4,873.6 516.0,881.1 516.7,886.2 517.4,888.8 518.0,886.4 518.7,880.9 519.4,878.4 520.0,876.5 520.7,869.6 521.3,860.9 522.0,856.1 522.7,851.6 523.3,839.0 524.0,814.2 524.7,774.6 525.3,714.6 526.0,627.5 526.7,514.9 527.3,394.5 528.0,296.4 528.6,260.5 529.3,306.1 530.0,406.9 530.6,523.6 531.3,633.2 532.0,721.9 532.6,783.0 533.3,821.6 533.9,848.1 534.6,865.5 535.3,874.3 535.9,877.5 536.6,878.4 537.3,878.8 537.9,877.2 538.6,871.9 539.2,863.7 539.9,853.0 540.6,843.6 541.2,838.8 541.9,837.4 542.6,839.1 543.2,845.6 543.9,856.0 544.5,866.3 545.2,873.4 545.9,877.4 546.5,879.4 547.2,879.0 547.9,873.1 548.5,860.6 549.2,842.1 549.8,818.3 550.5,793.2 551.2,773.1 551.8,762.4 552.5,763.0 553.2,775.5 553.8,798.7 554.5,823.9 555.1,840.0 555.8,846.0 556.5,848.3 557.1,848.5 557.8,845.1 558.5,837.5 559.1,826.5 559.8,818.3 560.5,817.4 561.1,821.4 561.8,829.0 562.4,841.8 563.1,856.1 563.8,866.4 564.4,873.8 565.1,880.5 565.8,883.3 566.4,879.5 567.1,871.8 567.7,864.9 568.4,861.8 569.1,861.5 569.7,863.8 570.4,869.9 571.1,876.3 571.7,880.7 572.4,884.0 573.0,886.2 573.7,887.3 574.4,887.6 575.0,885.8 575.7,881.3 576.4,877.1 577.0,875.2 577.7,873.9 578.3,869.7 579.0,861.2 579.7,849.8 580.3,830.9 581.0,796.6 581.7,745.5 582.3,678.4 583.0,600.5 583.6,528.3 584.3,482.7 585.0,479.4 585.6,518.9 586.3,586.2 587.0,661.7 587.6,730.4 588.3,785.0 588.9,824.3 589.6,849.7 590.3,864.1 590.9,870.5 591.6,871.3 592.3,869.2 592.9,865.0 593.6,859.2 594.3,855.3 594.9,853.4 595.6,849.5 596.2,845.4 596.9,845.6 597.6,849.8 598.2,855.8 598.9,862.4 599.6,867.9 600.2,870.3 600.9,868.7 601.5,861.1 602.2,848.5 602.9,837.0 603.5,830.2 604.2,830.3 604.9,838.8 605.5,851.6 606.2,864.2 606.8,875.8 607.5,883.7 608.2,887.1 608.8,889.0 609.5,892.5 610.2,897.7 610.8,901.5 611.5,901.2 612.1,898.2 612.8,897.2 613.5,899.5 614.1,902.2 614.8,903.5 615.5,905.2 616.1,906.6 616.8,906.3 617.4,905.1 618.1,903.9 618.8,903.3 619.4,905.0 620.1,910.3 620.8,915.9 621.4,916.1 622.1,911.3 622.7,905.6 623.4,902.3 624.1,902.1 624.7,902.0 625.4,900.5 626.1,900.0 626.7,901.5 627.4,903.6 628.1,905.0 628.7,903.7 629.4,900.6 630.0,896.6 630.7,889.9 631.4,880.9 632.0,871.3 632.7,862.5 633.4,856.5 634.0,853.5 634.7,851.7 635.3,852.4 636.0,857.9 636.7,867.1 637.3,874.8 638.0,878.7 638.7,881.1 639.3,883.1 640.0,882.0 640.6,878.8 641.3,876.8 642.0,877.4 642.6,881.7 643.3,888.2 644.0,893.6 644.6,896.8 645.3,898.0 645.9,898.2 646.6,899.5 647.3,902.7 647.9,906.1 648.6,907.8 649.3,908.0 649.9,908.8 650.6,909.9 651.2,909.5 651.9,908.2 652.6,906.5 653.2,904.6 653.9,903.8 654.6,904.6 655.2,905.8 655.9,906.6 656.5,907.4 657.2,908.0 657.9,907.8 658.5,907.4 659.2,908.1 659.9,909.1 660.5,909.1 661.2,907.0 661.9,902.8 662.5,897.3 663.2,891.6 663.8,887.1 664.5,886.9 665.2,891.3 665.8,896.3 666.5,901.0 667.2,904.9 667.8,905.5 668.5,902.6 669.1,899.6 669.8,898.4 670.5,895.6 671.1,886.8 671.8,871.6 672.5,854.1 673.1,838.0 673.8,824.6 674.4,817.0 675.1,818.8 675.8,829.0 676.4,844.2 677.1,859.4 677.8,871.2 678.4,880.9 679.1,890.6 679.7,899.0 680.4,903.1 681.1,903.5 681.7,903.7 682.4,905.5 683.1,908.3 683.7,910.0 684.4,910.3 685.0,909.5 685.7,907.7 686.4,905.0 687.0,903.1 687.7,903.6 688.4,904.0 689.0,902.4 689.7,901.4 690.3,901.4 691.0,899.0 691.7,893.1 692.3,886.3 693.0,879.4 693.7,870.1 694.3,857.4 695.0,845.0 695.7,838.0 696.3,837.3 697.0,840.7 697.6,848.4 698.3,859.4 699.0,870.1 699.6,879.6 700.3,887.3 701.0,892.5 701.6,894.5 702.3,893.2 702.9,887.7 703.6,878.0 704.3,866.0 704.9,854.7 705.6,848.3 706.3,849.1 706.9,855.6 707.6,865.6 708.2,875.9 708.9,884.2 709.6,891.4 710.2,899.2 710.9,906.7 711.6,910.8 712.2,910.6 712.9,908.3 713.5,906.6 714.2,906.5 714.9,908.0 715.5,910.2 716.2,912.4 716.9,913.9 717.5,913.4 718.2,911.5 718.8,911.4 719.5,914.5 720.2,917.1 720.8,917.3 721.5,917.5 722.2,917.9 722.8,917.5 723.5,915.6 724.1,913.2 724.8,912.6 725.5,913.7 726.1,913.9 726.8,913.1 727.5,912.5 728.1,913.1 728.8,913.8 729.5,913.0 730.1,910.7 730.8,907.8 731.4,904.0 732.1,897.1 732.8,887.3 733.4,878.4 734.1,874.2 734.8,871.8 735.4,867.1 736.1,862.5 736.7,861.1 737.4,864.2 738.1,871.7 738.7,879.1 739.4,881.6 740.1,880.8 740.7,879.0 741.4,877.9 742.0,877.7 742.7,878.7 743.4,880.7 744.0,881.8 744.7,882.2 745.4,885.2 746.0,891.4 746.7,895.9 747.3,895.9 748.0,893.8 748.7,891.9 749.3,890.3 750.0,886.4 750.7,879.7 751.3,873.2 752.0,868.2 752.6,864.0 753.3,861.1 754.0,862.4 754.6,868.5 755.3,877.8 756.0,886.1 756.6,890.7 757.3,892.7 757.9,894.5 758.6,896.8 759.3,897.7 759.9,896.4 760.6,895.3 761.3,895.5 761.9,894.2 762.6,890.9 763.3,885.8 763.9,879.1 764.6,872.7 765.2,868.4 765.9,865.7 766.6,864.7 767.2,866.6 767.9,871.3 768.6,878.8 769.2,887.9 769.9,896.0 770.5,902.3 771.2,905.9 771.9,906.6 772.5,907.0 773.2,909.6 773.9,912.1 774.5,911.8 775.2,910.7 775.8,911.0 776.5,911.3 777.2,911.4 777.8,910.3 778.5,905.9 779.2,900.6 779.8,897.4 780.5,894.5 781.1,889.9 781.8,885.7 782.5,885.3 783.1,888.7 783.8,892.3 784.5,893.9 785.1,894.3 785.8,893.8 786.4,892.3 787.1,889.1 787.8,882.1 788.4,870.7 789.1,855.4 789.8,836.4 790.4,814.5 791.1,793.4 791.7,777.9 792.4,770.3 793.1,770.9 793.7,781.1 794.4,800.1 795.1,822.1 795.7,839.8 796.4,851.7 797.1,862.2 797.7,872.9 798.4,880.9 799.0,885.4 799.7,890.3 800.4,897.3 801.0,904.1 801.7,908.1 802.4,908.8 803.0,907.0 803.7,902.3 804.3,895.7 805.0,888.0 805.7,879.0 806.3,868.8 807.0,856.9 807.7,844.8 808.3,834.5 809.0,826.9 809.6,823.4 810.3,826.6 811.0,834.8 811.6,843.4 812.3,849.7 813.0,854.5 813.6,859.4 814.3,862.4 814.9,861.2 815.6,855.8 816.3,846.5 816.9,836.5 817.6,831.1 818.3,832.8 818.9,839.3 819.6,848.5 820.2,859.8 820.9,871.1 821.6,880.2 822.2,887.8 822.9,894.0 823.6,898.8 824.2,902.0 824.9,904.0 825.5,905.3 826.2,905.1 826.9,904.5 827.5,905.0 828.2,906.5 828.9,908.2 829.5,907.9 830.2,905.1 830.9,901.1 831.5,896.8 832.2,892.7 832.8,889.0 833.5,885.8 834.2,883.4 834.8,881.6 835.5,880.4 836.2,879.7 836.8,881.7 837.5,886.9 838.1,891.3 838.8,893.6 839.5,896.2 840.1,899.9 840.8,905.2 841.5,910.1 842.1,911.8 842.8,909.5 843.4,904.4 844.1,900.2 844.8,898.0 845.4,896.0 846.1,894.1 846.8,892.1 847.4,889.8 848.1,887.7 848.7,885.5 849.4,883.2 850.1,882.0 850.7,882.7 851.4,884.1 852.1,884.0 852.7,883.1 853.4,883.4 854.0,883.3 854.7,879.9 855.4,876.2 856.0,875.8 856.7,878.1 857.4,883.2 858.0,889.9 858.7,894.6 859.3,897.8 860.0,901.7 860.7,904.5 861.3,904.2 862.0,901.8 862.7,898.3 863.3,894.8 864.0,890.7 864.7,885.1 865.3,878.6 866.0,871.6 866.6,863.6 867.3,855.6 868.0,851.0 868.6,852.6 869.3,859.0 870.0,867.1 870.6,874.8 871.3,881.9 871.9,887.9 872.6,891.7 873.3,894.6 873.9,897.7 874.6,902.0 875.3,906.1 875.9,908.2 876.6,908.7 877.2,909.2 877.9,910.5 878.6,912.7 879.2,914.4 879.9,914.9 880.6,914.0 881.2,911.1 881.9,907.6 882.5,905.0 883.2,903.2 883.9,901.4 884.5,899.6 885.2,896.6 885.9,889.3 886.5,877.2 887.2,861.9 887.8,844.7 888.5,825.8 889.2,804.9 889.8,783.5 890.5,764.2 891.2,748.9 891.8,739.2 892.5,738.0 893.1,749.4 893.8,772.2 894.5,798.7 895.1,822.6 895.8,840.5 896.5,853.0 897.1,862.6 897.8,868.7 898.5,869.0 899.1,864.1 899.8,856.5 900.4,849.4 901.1,844.7 901.8,843.1 902.4,845.5 903.1,850.4 903.8,855.3 904.4,861.1 905.1,869.3 905.7,877.6 906.4,883.6 907.1,887.7 907.7,890.6 908.4,894.2 909.1,898.5 909.7,900.2 910.4,899.8 911.0,900.0 911.7,899.1 912.4,896.1 913.0,892.6 913.7,889.3 914.4,886.0 915.0,881.9 915.7,876.8 916.3,873.3 917.0,872.6 917.7,873.1 918.3,875.6 919.0,880.6 919.7,886.8 920.3,892.7 921.0,896.6 921.6,898.3 922.3,899.4 923.0,901.4 923.6,904.1 924.3,904.8 925.0,903.0 925.6,899.8 926.3,897.2 926.9,896.2 927.6,895.7 928.3,895.7 928.9,895.6 929.6,895.5 930.3,896.5 930.9,898.4 931.6,901.2 932.3,904.9 932.9,909.1 933.6,912.0 934.2,912.0 934.9,910.7 935.6,910.0 936.2,908.7 936.9,905.8 937.6,904.0 938.2,903.3 938.9,901.0 939.5,897.8 940.2,895.3 940.9,892.2 941.5,888.5 942.2,886.4 942.9,886.4 943.5,888.4 944.2,891.4 944.8,893.6 945.5,896.5 946.2,901.8 946.8,906.1 947.5,908.0 948.2,908.1 948.8,907.3 949.5,907.3 950.1,908.2 950.8,906.9 951.5,901.8 952.1,896.8 952.8,893.6 953.5,890.7 954.1,888.3 954.8,887.1 955.4,888.6 956.1,893.4 956.8,899.3 957.4,904.2 958.1,908.7 958.8,912.3 959.4,914.1 960.1,913.5 960.7,911.9 961.4,911.4 962.1,911.5 962.7,911.1 963.4,909.9 964.1,906.3 964.7,900.0 965.4,893.8 966.1,889.6 966.7,886.8 967.4,884.7 968.0,884.3 968.7,887.1 969.4,892.6 970.0,896.9 970.7,897.7 971.4,897.2 972.0,897.8 972.7,899.1 973.3,900.5 974.0,902.1 974.7,903.8 975.3,905.2 976.0,906.3 976.7,907.9 977.3,909.4 978.0,909.7 978.6,909.0 979.3,908.0 980.0,907.2 980.6,907.4 981.3,907.9 982.0,908.2 982.6,908.3 983.3,907.9 983.9,908.1 984.6,909.7 985.3,912.7 985.9,914.8 986.6,913.4 987.3,908.9 987.9,905.3 988.6,904.7 989.2,904.9 989.9,903.3 990.6,901.5 991.2,903.8 991.9,908.5 992.6,910.7 993.2,908.0 993.9,901.0 994.5,894.9 995.2,893.0 995.9,893.3 996.5,892.0 997.2,887.0 997.9,879.4 998.5,871.9 999.2,864.8 999.9,857.8 1000.5,850.9 1001.2,846.0 1001.8,846.2 1002.5,852.3 1003.2,861.8 1003.8,871.7 1004.5,879.6 1005.2,884.1 1005.8,886.5 1006.5,889.3 1007.1,893.1 1007.8,898.2 1008.5,903.5 1009.1,907.3 1009.8,908.0 1010.5,905.5 1011.1,901.8 1011.8,899.8 1012.4,898.2 1013.1,896.3 1013.8,895.6 1014.4,895.6 1015.1,895.6 1015.8,896.0 1016.4,896.2 1017.1,896.3 1017.7,898.5 1018.4,902.8 1019.1,904.2 1019.7,901.4 1020.4,898.8 1021.1,897.7 1021.7,896.1 1022.4,893.7 1023.0,893.6 1023.7,895.8 1024.4,898.2 1025.0,901.0 1025.7,903.1 1026.4,903.2 1027.0,903.7 1027.7,905.2 1028.3,904.7 1029.0,902.3 1029.7,901.6 1030.3,903.2 1031.0,904.7 1031.7,903.8 1032.3,900.8 1033.0,897.1 1033.7,893.3 1034.3,890.8 1035.0,891.4 1035.6,893.2 1036.3,892.7 1037.0,890.8 1037.6,891.2 1038.3,895.0 1039.0,899.4 1039.6,903.4 1040.3,907.0 1040.9,909.1 1041.6,908.8 1042.3,907.9 1042.9,908.4 1043.6,909.9 1044.3,910.8 1044.9,910.1 1045.6,907.6 1046.2,905.9 1046.9,906.3 1047.6,906.9 1048.2,908.1 1048.9,911.2 1049.6,912.9 1050.2,912.2 1050.9,912.2 1051.5,913.7 1052.2,914.5 1052.9,914.7 1053.5,913.8 1054.2,912.0 1054.9,911.3 1055.5,913.4 1056.2,916.6 1056.8,917.4 1057.5,916.1 1058.2,916.6 1058.8,917.4 1059.5,915.4 1060.2,913.5 1060.8,913.6 1061.5,912.0 1062.1,907.6 1062.8,903.9 1063.5,901.6 1064.1,900.2 1064.8,898.5 1065.5,894.3 1066.1,888.8 1066.8,886.5 1067.4,889.3 1068.1,894.1 1068.8,897.6 1069.4,898.8 1070.1,898.8 1070.8,898.4 1071.4,897.5 1072.1,896.5 1072.8,896.6 1073.4,896.7 1074.1,896.8 1074.7,898.5 1075.4,901.1 1076.1,902.0 1076.7,900.5 1077.4,898.8 1078.1,899.0 1078.7,902.0 1079.4,904.0 1080.0,902.5 1080.7,900.8 1081.4,901.1 1082.0,901.4 1082.7,900.1 1083.4,898.8 1084.0,899.6 1084.7,901.9 1085.3,903.9 1086.0,903.6 1086.7,901.7 1087.3,902.3 1088.0,905.1 1088.7,907.1 1089.3,908.6 1090.0,910.0 1090.6,910.2 1091.3,909.9 1092.0,909.6 1092.6,908.0 1093.3,904.9 1094.0,902.2 1094.6,900.1 1095.3,898.8 1095.9,899.1 1096.6,900.7 1097.3,901.9 1097.9,902.7 1098.6,904.7 1099.3,908.0 1099.9,909.9 1100.6,910.8 1101.2,912.5 1101.9,914.2 1102.6,914.8 1103.2,914.9 1103.9,914.9 1104.6,914.2 1105.2,913.6 1105.9,913.0 1106.6,911.3 1107.2,909.0 1107.9,906.3 1108.5,904.1 1109.2,903.0 1109.9,901.5 1110.5,898.4 1111.2,893.6 1111.9,886.5 1112.5,879.5 1113.2,876.4 1113.8,878.0 1114.5,883.0 1115.2,888.6 1115.8,891.9 1116.5,893.0 1117.2,893.8 1117.8,894.9 1118.5,896.4 1119.1,898.5 1119.8,901.3 1120.5,904.5 1121.1,908.1 1121.8,911.7 1122.5,912.4 1123.1,908.6 1123.8,904.1 1124.4,902.1 1125.1,903.0 1125.8,906.3 1126.4,909.0 1127.1,907.8 1127.8,903.6 1128.4,899.8 1129.1,897.3 1129.7,895.6 1130.4,894.6 1131.1,893.9 1131.7,893.7 1132.4,893.9 1133.1,894.7 1133.7,896.1 1134.4,897.6 1135.0,900.0 1135.7,902.7 1136.4,905.4 1137.0,908.7 1137.7,911.1 1138.4,912.7 1139.0,913.0 1139.7,910.7 1140.4,908.9 1141.0,909.4 1141.7,910.6 1142.3,911.3 1143.0,911.6 1143.7,911.9 1144.3,912.6 1145.0,912.2 1145.7,910.3 1146.3,908.7 1147.0,909.9 1147.6,913.2 1148.3,914.3 1149.0,912.2 1149.6,910.1 1150.3,908.8 1151.0,906.5 1151.6,904.0 1152.3,902.2 1152.9,902.0 1153.6,902.2 1154.3,900.1 1154.9,897.2 1155.6,897.4 1156.3,898.6 1156.9,897.0 1157.6,893.9 1158.2,892.9 1158.9,894.9 1159.6,898.7 1160.2,901.9 1160.9,902.3 1161.6,901.9 1162.2,902.9 1162.9,904.1 1163.5,903.3 1164.2,901.4 1164.9,901.5 1165.5,904.5 1166.2,907.9 1166.9,908.5 1167.5,907.7 1168.2,909.3 1168.8,911.4 1169.5,913.1 1170.2,916.3 1170.8,920.5 1171.5,921.6 1172.2,919.7 1172.8,917.5 1173.5,916.5 1174.2,915.8 1174.8,914.4 1175.5,913.1 1176.1,912.7 1176.8,912.0 1177.5,910.2 1178.1,908.3 1178.8,907.5 1179.5,907.4 1180.1,906.4 1180.8,904.6 1181.4,903.1 1182.1,903.5 1182.8,904.2 1183.4,904.1 1184.1,903.9 1184.8,902.7 1185.4,900.6 1186.1,898.8 1186.7,899.5 1187.4,901.2 1188.1,900.5 1188.7,899.4 1189.4,899.7 1190.1,900.3 1190.7,901.3 1191.4,902.2 1192.0,901.6 1192.7,899.4 1193.4,898.1 1194.0,898.5 1194.7,898.0 1195.4,895.4 1196.0,895.7 1196.7,900.2 1197.3,903.7 1198.0,903.1 1198.7,900.7 1199.3,901.2 1200.0,905.1 1200.7,907.2 1201.3,905.1 1202.0,902.8 1202.6,902.6 1203.3,904.3 1204.0,906.3 1204.6,906.1 1205.3,903.7 1206.0,900.5 1206.6,898.9 1207.3,899.5 1208.0,898.8 1208.6,896.1 1209.3,895.6 1209.9,898.8 1210.6,901.3 1211.3,899.3 1211.9,895.2 1212.6,893.0 1213.3,893.5 1213.9,894.9 1214.6,896.2 1215.2,896.4 1215.9,895.8 1216.6,895.4 1217.2,894.3 1217.9,893.0 1218.6,894.3 1219.2,898.3 1219.9,902.4 1220.5,904.8 1221.2,904.3 1221.9,902.6 1222.5,902.6 1223.2,902.5 1223.9,900.6 1224.5,898.7 1225.2,896.6 1225.8,894.4 1226.5,894.3 1227.2,896.6 1227.8,897.9 1228.5,896.9 1229.2,897.1 1229.8,898.1 1230.5,895.1 1231.1,888.9 1231.8,885.4 1232.5,885.4 1233.1,887.5 1233.8,891.3 1234.5,893.7 1235.1,892.6 1235.8,891.0 1236.4,890.6 1237.1,891.5 1237.8,895.7 1238.4,902.0 1239.1,905.4 1239.8,905.4 1240.4,905.2 1241.1,904.9 1241.8,904.5 1242.4,905.6 1243.1,907.8 1243.7,909.5 1244.4,910.6 1245.1,912.2 1245.7,914.2 1246.4,914.6 1247.1,911.6 1247.7,906.4 1248.4,901.3 1249.0,899.3 1249.7,900.9 1250.4,903.9 1251.0,906.5 1251.7,907.3 1252.4,905.8 1253.0,903.3 1253.7,900.7 1254.3,898.6 1255.0,898.9 1255.7,903.0 1256.3,906.7 1257.0,906.5 1257.7,904.1 1258.3,901.1 1259.0,899.5 1259.6,899.7 1260.3,899.4 1261.0,898.7 1261.6,897.9 1262.3,895.8 1263.0,892.9 1263.6,891.3 1264.3,891.9 1264.9,895.4 1265.6,902.1 1266.3,909.9 1266.9,913.3 1267.6,909.7 1268.3,905.2 1268.9,906.5 1269.6,909.7 1270.2,909.2 1270.9,907.5 1271.6,906.8 1272.2,904.9 1272.9,901.7 1273.6,897.2 1274.2,892.5 1274.9,891.2 1275.6,894.3 1276.2,896.7 1276.9,895.1 1277.5,890.9 1278.2,887.9 1278.9,888.2 1279.5,892.1 1280.2,897.6 1280.9,902.3 1281.5,905.3 1282.2,905.5 1282.8,902.9 1283.5,900.3 1284.2,900.1 1284.8,901.9 1285.5,903.3 1286.2,903.1 1286.8,901.5 1287.5,898.5 1288.1,896.1 1288.8,896.2 1289.5,896.8 1290.1,896.0 1290.8,895.6 1291.5,897.8 1292.1,900.6 1292.8,901.0 1293.4,899.0 1294.1,897.7 1294.8,900.1 1295.4,903.1 1296.1,902.8 1296.8,901.9 1297.4,903.3 1298.1,905.5 1298.7,906.0 1299.4,904.7 1300.1,902.7 1300.7,900.7 1301.4,899.6 1302.1,900.2 1302.7,901.9 1303.4,905.9 1304.0,910.6 1304.7,912.7 1305.4,911.4 1306.0,906.4 1306.7,900.3 1307.4,897.1 1308.0,896.6 1308.7,897.2 1309.4,897.4 1310.0,896.4 1310.7,895.3 1311.3,895.9 1312.0,896.4 1312.7,894.3 1313.3,892.0 1314.0,893.6 1314.7,898.7 1315.3,903.9 1316.0,906.5 1316.6,907.4 1317.3,907.0 1318.0,904.9 1318.6,904.4 1319.3,906.0 1320.0,907.5 1320.6,907.3 1321.3,904.5 1321.9,900.4 1322.6,898.0 1323.3,898.8 1323.9,901.0 1324.6,901.5 1325.3,900.9 1325.9,901.2 1326.6,899.8 1327.2,896.9 1327.9,897.0 1328.6,900.1 1329.2,901.7 1329.9,902.0 1330.6,903.0 1331.2,903.7 1331.9,904.1 1332.5,906.1 1333.2,909.6 1333.9,912.1 1334.5,912.0 1335.2,909.4 1335.9,905.7 1336.5,903.8 1337.2,904.3 1337.8,904.8 1338.5,905.0 1339.2,905.4 1339.8,906.1 1340.5,907.7"/><polyline stroke="#2e62b2" points="180.7,779.1 181.4,779.9 182.0,778.7 182.7,779.9 183.4,784.2 184.0,784.4 184.7,779.9 185.3,772.3 186.0,759.1 186.7,745.7 187.3,747.8 188.0,769.4 188.7,793.5 189.3,799.3 190.0,793.8 190.6,792.3 191.3,789.2 192.0,775.2 192.6,772.1 193.3,786.4 194.0,795.7 194.6,792.0 195.3,780.3 195.9,767.2 196.6,763.5 197.3,771.0 197.9,775.7 198.6,772.1 199.3,766.4 199.9,767.8 200.6,779.4 201.2,794.9 201.9,801.0 202.6,793.8 203.2,782.8 203.9,783.8 204.6,793.5 205.2,798.4 205.9,800.2 206.5,804.6 207.2,801.4 207.9,785.6 208.5,777.5 209.2,790.7 209.9,809.3 210.5,818.7 211.2,814.0 211.8,799.7 212.5,791.4 213.2,792.7 213.8,795.7 214.5,799.8 215.2,808.5 215.8,816.4 216.5,815.2 217.2,812.0 217.8,814.1 218.5,816.6 219.1,815.0 219.8,808.1 220.5,802.6 221.1,803.1 221.8,800.8 222.5,793.1 223.1,788.4 223.8,794.8 224.4,805.2 225.1,804.5 225.8,798.5 226.4,790.1 227.1,778.8 227.8,771.4 228.4,771.0 229.1,773.4 229.7,778.2 230.4,788.2 231.1,794.9 231.7,795.7 232.4,791.7 233.1,782.6 233.7,778.4 234.4,784.8 235.0,799.5 235.7,809.6 236.4,809.6 237.0,809.2 237.7,811.6 238.4,810.3 239.0,805.2 239.7,803.2 240.3,807.1 241.0,812.6 241.7,821.8 242.3,830.4 243.0,832.9 243.7,828.3 244.3,816.9 245.0,807.7 245.6,804.7 246.3,801.1 247.0,799.6 247.6,806.0 248.3,816.2 249.0,826.0 249.6,830.5 250.3,829.3 251.0,827.5 251.6,820.7 252.3,813.2 252.9,811.9 253.6,818.2 254.3,823.9 254.9,824.3 255.6,824.4 256.3,823.5 256.9,821.7 257.6,821.8 258.2,824.2 258.9,827.3 259.6,831.0 260.2,832.7 260.9,827.0 261.6,815.7 262.2,804.8 262.9,807.5 263.5,819.5 264.2,823.4 264.9,823.8 265.5,824.6 266.2,824.3 266.9,829.2 267.5,833.1 268.2,827.6 268.8,820.4 269.5,819.0 270.2,818.2 270.8,813.7 271.5,815.8 272.2,825.7 272.8,830.5 273.5,828.2 274.1,821.8 274.8,817.1 275.5,824.1 276.1,835.4 276.8,835.7 277.5,824.1 278.1,815.6 278.8,819.6 279.4,824.6 280.1,823.7 280.8,818.9 281.4,816.5 282.1,821.3 282.8,825.1 283.4,826.8 284.1,830.1 284.8,830.4 285.4,826.7 286.1,829.4 286.7,837.6 287.4,843.2 288.1,840.2 288.7,830.4 289.4,822.5 290.1,819.5 290.7,820.1 291.4,824.0 292.0,827.5 292.7,827.8 293.4,829.1 294.0,830.1 294.7,827.1 295.4,826.2 296.0,831.2 296.7,833.4 297.3,827.9 298.0,825.8 298.7,832.9 299.3,838.9 300.0,839.1 300.7,841.2 301.3,845.5 302.0,841.5 302.6,836.6 303.3,835.6 304.0,833.6 304.6,836.6 305.3,844.1 306.0,850.8 306.6,853.8 307.3,847.4 307.9,838.9 308.6,836.3 309.3,834.6 309.9,835.6 310.6,840.7 311.3,851.7 311.9,861.5 312.6,860.3 313.2,857.4 313.9,860.1 314.6,860.3 315.2,857.5 315.9,860.3 316.6,863.4 317.2,857.9 317.9,849.8 318.6,844.9 319.2,839.7 319.9,839.5 320.5,849.6 321.2,860.9 321.9,862.4 322.5,854.5 323.2,847.1 323.9,846.0 324.5,849.0 325.2,852.6 325.8,855.1 326.5,858.7 327.2,864.2 327.8,870.3 328.5,872.3 329.2,870.4 329.8,868.3 330.5,863.2 331.1,854.2 331.8,843.8 332.5,837.1 333.1,842.4 333.8,851.1 334.5,853.5 335.1,855.1 335.8,857.2 336.4,860.5 337.1,870.2 337.8,875.3 338.4,867.7 339.1,859.1 339.8,857.2 340.4,862.0 341.1,863.6 341.7,860.9 342.4,860.8 343.1,857.8 343.7,854.2 344.4,856.7 345.1,860.1 345.7,860.3 346.4,860.7 347.0,861.8 347.7,858.2 348.4,851.9 349.0,851.5 349.7,859.9 350.4,865.9 351.0,865.2 351.7,864.2 352.4,862.9 353.0,860.7 353.7,861.5 354.3,867.9 355.0,876.8 355.7,881.6 356.3,875.2 357.0,867.4 357.7,869.7 358.3,874.9 359.0,874.2 359.6,869.7 360.3,869.3 361.0,870.2 361.6,866.8 362.3,863.7 363.0,863.7 363.6,862.9 364.3,860.4 364.9,862.7 365.6,868.7 366.3,871.8 366.9,869.9 367.6,866.7 368.3,864.7 368.9,861.9 369.6,859.3 370.2,859.0 370.9,863.9 371.6,873.1 372.2,878.0 372.9,873.3 373.6,867.7 374.2,867.3 374.9,870.1 375.5,874.4 376.2,876.9 376.9,874.3 377.5,869.9 378.2,871.7 378.9,878.0 379.5,880.0 380.2,874.1 380.8,867.9 381.5,868.6 382.2,869.2 382.8,864.2 383.5,860.5 384.2,861.4 384.8,863.1 385.5,864.4 386.2,866.9 386.8,870.4 387.5,871.6 388.1,868.7 388.8,867.0 389.5,870.9 390.1,876.6 390.8,875.4 391.5,872.7 392.1,873.5 392.8,873.0 393.4,872.0 394.1,874.4 394.8,877.5 395.4,875.9 396.1,871.1 396.8,870.0 397.4,873.5 398.1,876.0 398.7,876.1 399.4,878.5 400.1,884.9 400.7,888.3 401.4,887.7 402.1,887.4 402.7,885.6 403.4,882.3 404.0,881.8 404.7,883.4 405.4,885.2 406.0,887.4 406.7,889.1 407.4,891.4 408.0,890.1 408.7,886.2 409.3,886.1 410.0,887.6 410.7,886.0 411.3,883.2 412.0,882.1 412.7,881.3 413.3,881.9 414.0,885.6 414.6,887.5 415.3,884.2 416.0,878.1 416.6,874.9 417.3,876.6 418.0,880.9 418.6,883.0 419.3,882.9 420.0,882.6 420.6,881.8 421.3,883.3 421.9,886.8 422.6,886.9 423.3,881.6 423.9,874.3 424.6,873.5 425.3,881.6 425.9,891.3 426.6,895.8 427.2,893.6 427.9,891.6 428.6,891.7 429.2,892.3 429.9,893.9 430.6,893.5 431.2,892.3 431.9,890.9 432.5,887.4 433.2,888.4 433.9,894.4 434.5,895.8 435.2,892.5 435.9,892.5 436.5,894.7 437.2,894.1 437.8,891.6 438.5,888.7 439.2,885.3 439.8,881.6 440.5,878.5 441.2,878.4 441.8,879.9 442.5,880.4 443.1,881.8 443.8,886.6 444.5,890.4 445.1,888.9 445.8,885.6 446.5,884.1 447.1,885.4 447.8,886.2 448.4,884.8 449.1,884.2 449.8,887.3 450.4,890.7 451.1,892.1 451.8,892.5 452.4,892.0 453.1,890.2 453.8,887.1 454.4,885.9 455.1,889.3 455.7,892.2 456.4,892.7 457.1,894.1 457.7,897.1 458.4,897.3 459.1,894.3 459.7,892.4 460.4,893.9 461.0,896.3 461.7,895.4 462.4,890.6 463.0,887.3 463.7,888.5 464.4,891.1 465.0,894.0 465.7,896.9 466.3,897.4 467.0,895.9 467.7,895.0 468.3,895.9 469.0,895.0 469.7,890.0 470.3,887.7 471.0,890.3 471.6,892.0 472.3,892.4 473.0,894.0 473.6,894.9 474.3,892.9 475.0,891.6 475.6,891.6 476.3,893.7 476.9,895.9 477.6,895.6 478.3,895.7 478.9,898.2 479.6,900.6 480.3,901.8 480.9,900.0 481.6,894.8 482.2,892.3 482.9,892.8 483.6,894.4 484.2,896.3 484.9,894.2 485.6,891.5 486.2,897.1 486.9,908.5 487.5,913.2 488.2,906.8 488.9,899.3 489.5,897.6 490.2,897.8 490.9,897.9 491.5,898.3 492.2,896.5 492.9,894.1 493.5,894.1 494.2,896.1 494.8,897.8 495.5,897.3 496.2,894.6 496.8,890.1 497.5,890.7 498.2,899.3 498.8,905.6 499.5,903.0 500.1,896.9 500.8,893.4 501.5,895.1 502.1,899.4 502.8,900.2 503.5,898.7 504.1,898.3 504.8,897.3 505.4,896.3 506.1,895.0 506.8,893.8 507.4,894.2 508.1,896.9 508.8,899.9 509.4,900.0 510.1,898.4 510.7,896.6 511.4,896.7 512.1,900.1 512.7,903.6 513.4,904.1 514.1,902.0 514.7,900.1 515.4,899.2 516.0,898.0 516.7,899.1 517.4,902.6 518.0,904.1 518.7,902.4 519.4,901.8 520.0,901.5 520.7,897.2 521.3,894.0 522.0,894.2 522.7,893.1 523.3,891.4 524.0,894.8 524.7,900.6 525.3,903.1 526.0,904.2 526.7,906.7 527.3,907.9 528.0,905.5 528.6,903.5 529.3,902.5 530.0,901.4 530.6,901.3 531.3,903.1 532.0,903.5 532.6,900.7 533.3,898.7 533.9,898.9 534.6,899.4 535.3,900.9 535.9,901.8 536.6,901.7 537.3,902.4 537.9,903.2 538.6,904.3 539.2,906.5 539.9,908.5 540.6,907.3 541.2,904.2 541.9,903.7 542.6,905.3 543.2,906.7 543.9,908.4 544.5,911.1 545.2,912.0 545.9,911.1 546.5,910.8 547.2,910.2 547.9,908.9 548.5,907.5 549.2,904.9 549.8,901.6 550.5,900.7 551.2,902.8 551.8,907.0 552.5,911.3 553.2,914.0 553.8,915.3 554.5,915.2 555.1,911.7 555.8,906.2 556.5,903.5 557.1,905.5 557.8,908.8 558.5,910.1 559.1,909.9 559.8,908.8 560.5,907.1 561.1,904.0 561.8,901.2 562.4,901.0 563.1,902.9 563.8,906.3 564.4,907.7 565.1,906.1 565.8,906.4 566.4,909.9 567.1,913.2 567.7,914.4 568.4,912.8 569.1,911.0 569.7,912.1 570.4,914.6 571.1,914.8 571.7,912.1 572.4,909.7 573.0,909.9 573.7,911.7 574.4,912.0 575.0,910.6 575.7,910.8 576.4,912.3 577.0,914.4 577.7,916.5 578.3,915.7 579.0,913.2 579.7,910.9 580.3,910.3 581.0,913.1 581.7,916.4 582.3,916.2 583.0,914.8 583.6,915.7 584.3,918.1 585.0,918.0 585.6,915.3 586.3,914.1 587.0,915.5 587.6,916.4 588.3,917.0 588.9,918.2 589.6,915.9 590.3,912.5 590.9,913.0 591.6,915.1 592.3,915.8 592.9,915.6 593.6,916.1 594.3,916.3 594.9,916.4 595.6,916.7 596.2,917.1 596.9,918.3 597.6,918.5 598.2,917.3 598.9,916.0 599.6,914.5 600.2,914.4 600.9,916.0 601.5,917.6 602.2,917.7 602.9,916.6 603.5,915.4 604.2,915.3 604.9,915.8 605.5,916.6 606.2,917.0 606.8,916.9 607.5,916.9 608.2,915.9 608.8,915.4 609.5,917.3 610.2,919.4 610.8,920.7 611.5,921.1 612.1,920.8 612.8,919.7 613.5,917.8 614.1,915.4 614.8,913.6 615.5,913.8 616.1,915.1 616.8,916.7 617.4,918.7 618.1,920.5 618.8,920.4 619.4,917.2 620.1,914.5 620.8,914.6 621.4,915.3 622.1,915.5 622.7,917.4 623.4,919.9 624.1,921.1 624.7,920.1 625.4,917.2 626.1,915.3 626.7,917.1 627.4,919.6 628.1,920.4 628.7,920.7 629.4,920.5 630.0,918.5 630.7,916.5 631.4,916.3 632.0,918.1 632.7,920.5 633.4,920.1 634.0,917.3 634.7,917.0 635.3,918.7 636.0,918.8 636.7,917.6 637.3,917.2 638.0,917.7 638.7,918.4 639.3,918.3 640.0,918.7 640.6,921.0 641.3,924.6 642.0,926.3 642.6,924.9 643.3,922.3 644.0,919.4 644.6,917.6 645.3,917.8 645.9,918.3 646.6,917.8 647.3,917.4 647.9,917.5 648.6,917.0 649.3,916.4 649.9,916.3 650.6,916.7 651.2,917.9 651.9,919.1 652.6,920.7 653.2,921.9 653.9,921.5 654.6,920.7 655.2,920.7 655.9,920.7 656.5,919.6 657.2,917.0 657.9,915.3 658.5,915.2 659.2,915.1 659.9,914.9 660.5,915.7 661.2,918.2 661.9,919.8 662.5,919.3 663.2,920.1 663.8,922.1 664.5,923.3 665.2,923.4 665.8,922.4 666.5,920.5 667.2,918.8 667.8,919.9 668.5,923.0 669.1,924.5 669.8,924.5 670.5,923.9 671.1,922.6 671.8,921.7 672.5,921.8 673.1,920.9 673.8,918.7 674.4,916.8 675.1,916.8 675.8,918.1 676.4,919.5 677.1,920.6 677.8,921.2 678.4,921.4 679.1,921.7 679.7,922.7 680.4,922.8 681.1,921.7 681.7,921.6 682.4,922.6 683.1,922.4 683.7,921.3 684.4,921.2 685.0,921.5 685.7,921.1 686.4,919.8 687.0,919.0 687.7,920.5 688.4,923.5 689.0,924.3 689.7,921.8 690.3,919.3 691.0,918.9 691.7,919.9 692.3,921.6 693.0,922.1 693.7,920.9 694.3,920.1 695.0,920.9 695.7,922.0 696.3,922.0 697.0,921.3 697.6,921.0 698.3,921.7 699.0,922.2 699.6,921.2 700.3,920.1 701.0,920.9 701.6,922.7 702.3,923.5 702.9,922.6 703.6,922.0 704.3,922.9 704.9,922.5 705.6,920.3 706.3,919.1 706.9,919.1 707.6,918.9 708.2,918.4 708.9,918.4 709.6,918.4 710.2,918.0 710.9,918.2 711.6,919.2 712.2,920.6 712.9,921.8 713.5,923.3 714.2,923.6 714.9,922.6 715.5,921.9 716.2,921.6 716.9,920.9 717.5,920.0 718.2,920.8 718.8,921.8 719.5,921.1 720.2,920.5 720.8,920.3 721.5,918.9 722.2,917.4 722.8,918.2 723.5,920.2 724.1,921.5 724.8,922.8 725.5,925.4 726.1,926.9 726.8,925.4 727.5,922.4 728.1,920.2 728.8,920.9 729.5,922.8 730.1,923.2 730.8,922.6 731.4,922.6 732.1,922.6 732.8,921.8 733.4,921.1 734.1,920.5 734.8,919.5 735.4,918.3 736.1,918.7 736.7,919.3 737.4,918.5 738.1,918.4 738.7,919.5 739.4,920.7 740.1,920.9 740.7,920.5 741.4,920.0 742.0,919.7 742.7,920.6 743.4,921.7 744.0,921.3 744.7,920.2 745.4,920.2 746.0,921.3 746.7,922.2 747.3,923.0 748.0,923.6 748.7,922.7 749.3,921.0 750.0,920.9 750.7,921.5 751.3,920.8 752.0,919.0 752.6,918.4 753.3,919.6 754.0,920.7 754.6,920.3 755.3,919.1 756.0,919.4 756.6,920.2 757.3,919.9 757.9,919.8 758.6,920.3 759.3,921.2 759.9,922.2 760.6,922.1 761.3,921.5 761.9,921.5 762.6,921.0 763.3,920.1 763.9,921.0 764.6,922.4 765.2,922.1 765.9,920.6 766.6,919.7 767.2,920.1 767.9,921.4 768.6,923.1 769.2,923.5 769.9,922.8 770.5,922.2 771.2,922.2 771.9,921.5 772.5,920.0 773.2,920.2 773.9,920.5 774.5,919.9 775.2,920.5 775.8,923.2 776.5,925.6 777.2,925.0 777.8,923.5 778.5,924.0 779.2,925.3 779.8,924.7 780.5,922.4 781.1,921.6 781.8,922.5 782.5,923.0 783.1,923.3 783.8,923.6 784.5,922.9 785.1,921.4 785.8,920.3 786.4,920.1 787.1,921.2 787.8,922.1 788.4,922.7 789.1,923.4 789.8,923.2 790.4,922.1 791.1,921.8 791.7,921.8 792.4,922.0 793.1,922.3 793.7,921.8 794.4,921.4 795.1,921.8 795.7,922.8 796.4,924.6 797.1,925.7 797.7,924.9 798.4,923.3 799.0,922.0 799.7,921.9 800.4,922.1 801.0,921.2 801.7,919.8 802.4,919.6 803.0,920.4 803.7,921.5 804.3,922.2 805.0,922.2 805.7,921.9 806.3,922.1 807.0,923.3 807.7,925.1 808.3,926.5 809.0,925.9 809.6,923.4 810.3,921.0 811.0,921.3 811.6,923.4 812.3,924.0 813.0,922.8 813.6,922.5 814.3,922.7 814.9,921.8 815.6,920.7 816.3,920.2 816.9,920.3 817.6,920.9 818.3,922.2 818.9,923.5 819.6,923.8 820.2,923.3 820.9,923.3 821.6,924.2 822.2,924.1 822.9,922.0 823.6,919.9 824.2,919.5 824.9,921.3 825.5,923.8 826.2,924.8 826.9,924.6 827.5,924.9 828.2,925.2 828.9,924.3 829.5,923.5 830.2,923.3 830.9,922.3 831.5,921.2 832.2,920.8 832.8,920.4 833.5,920.4 834.2,921.1 834.8,921.8 835.5,922.0 836.2,922.1 836.8,922.9 837.5,923.3 838.1,923.0 838.8,922.7 839.5,922.0 840.1,921.4 840.8,921.6 841.5,921.7 842.1,921.5 842.8,922.7 843.4,924.5 844.1,924.3 844.8,922.9 845.4,923.6 846.1,925.7 846.8,926.0 847.4,924.9 848.1,923.9 848.7,923.0 849.4,922.6 850.1,922.9 850.7,923.0 851.4,921.7 852.1,920.8 852.7,921.1 853.4,920.8 854.0,920.6 854.7,921.6 855.4,923.3 856.0,924.5 856.7,923.9 857.4,922.0 858.0,920.4 858.7,919.9 859.3,920.2 860.0,921.5 860.7,923.3 861.3,924.1 862.0,923.3 862.7,922.8 863.3,923.7 864.0,925.1 864.7,925.7 865.3,925.4 866.0,924.8 866.6,924.4 867.3,923.6 868.0,922.6 868.6,921.9 869.3,922.5 870.0,924.5 870.6,924.9 871.3,922.4 871.9,920.1 872.6,919.9 873.3,920.9 873.9,922.0 874.6,923.4 875.3,924.5 875.9,924.2 876.6,923.2 877.2,922.4 877.9,922.4 878.6,923.5 879.2,923.6 879.9,923.1 880.6,924.1 881.2,925.5 881.9,925.6 882.5,923.8 883.2,921.8 883.9,921.4 884.5,922.1 885.2,922.5 885.9,922.5 886.5,923.1 887.2,924.0 887.8,923.7 888.5,922.5 889.2,921.6 889.8,921.5 890.5,921.0 891.2,921.3 891.8,923.0 892.5,923.7 893.1,922.7 893.8,922.2 894.5,922.5 895.1,922.9 895.8,922.9 896.5,922.8 897.1,922.8 897.8,923.3 898.5,924.4 899.1,924.6 899.8,923.9 900.4,923.2 901.1,922.8 901.8,923.1 902.4,923.6 903.1,924.0 903.8,925.0 904.4,926.1 905.1,926.2 905.7,925.4 906.4,924.2 907.1,922.7 907.7,921.4 908.4,920.3 909.1,919.7 909.7,920.1 910.4,920.6 911.0,920.4 911.7,920.9 912.4,921.9 913.0,921.9 913.7,921.4 914.4,921.2 915.0,921.2 915.7,921.4 916.3,922.0 917.0,922.6 917.7,922.9 918.3,923.1 919.0,923.7 919.7,924.0 920.3,922.8 921.0,921.4 921.6,921.5 922.3,922.3 923.0,923.2 923.6,924.3 924.3,924.8 925.0,924.2 925.6,923.2 926.3,922.8 926.9,923.1 927.6,923.8 928.3,924.8 928.9,924.7 929.6,923.4 930.3,923.0 930.9,924.5 931.6,925.4 932.3,924.6 932.9,924.3 933.6,925.2 934.2,925.5 934.9,924.7 935.6,923.6 936.2,923.1 936.9,922.7 937.6,921.7 938.2,922.0 938.9,922.6 939.5,922.1 940.2,920.8 940.9,919.8 941.5,920.7 942.2,922.7 942.9,924.0 943.5,924.2 944.2,923.6 944.8,923.0 945.5,922.4 946.2,921.9 946.8,922.3 947.5,922.9 948.2,923.9 948.8,925.2 949.5,925.0 950.1,923.6 950.8,923.0 951.5,923.0 952.1,923.3 952.8,924.1 953.5,925.1 954.1,926.0 954.8,925.6 955.4,924.3 956.1,924.0 956.8,923.3 957.4,921.8 958.1,921.8 958.8,923.2 959.4,924.2 960.1,924.4 960.7,924.1 961.4,923.3 962.1,922.7 962.7,922.3 963.4,921.5 964.1,920.5 964.7,920.0 965.4,921.3 966.1,923.3 966.7,924.3 967.4,925.0 968.0,925.1 968.7,924.3 969.4,923.9 970.0,923.5 970.7,923.2 971.4,923.9 972.0,924.1 972.7,922.8 973.3,922.0 974.0,923.1 974.7,924.8 975.3,924.7 976.0,922.7 976.7,920.8 977.3,920.3 978.0,920.7 978.6,921.4 979.3,922.3 980.0,922.7 980.6,923.2 981.3,923.9 982.0,923.8 982.6,923.6 983.3,923.4 983.9,922.5 984.6,921.7 985.3,922.1 985.9,922.9 986.6,922.5 987.3,921.5 987.9,922.0 988.6,923.0 989.2,922.6 989.9,921.8 990.6,921.7 991.2,921.0 991.9,920.5 992.6,921.9 993.2,923.8 993.9,924.7 994.5,923.9 995.2,922.9 995.9,923.7 996.5,925.1 997.2,925.1 997.9,923.9 998.5,923.3 999.2,923.3 999.9,923.3 1000.5,923.3 1001.2,922.9 1001.8,922.5 1002.5,922.8 1003.2,923.5 1003.8,923.8 1004.5,924.0 1005.2,924.3 1005.8,923.6 1006.5,922.4 1007.1,922.2 1007.8,922.9 1008.5,923.6 1009.1,924.1 1009.8,924.3 1010.5,924.0 1011.1,923.5 1011.8,923.9 1012.4,925.0 1013.1,925.9 1013.8,925.8 1014.4,924.7 1015.1,924.1 1015.8,924.4 1016.4,924.6 1017.1,924.0 1017.7,923.0 1018.4,923.1 1019.1,923.8 1019.7,923.8 1020.4,923.9 1021.1,924.2 1021.7,924.0 1022.4,924.1 1023.0,924.5 1023.7,924.5 1024.4,924.0 1025.0,923.9 1025.7,924.5 1026.4,925.0 1027.0,924.4 1027.7,922.9 1028.3,922.0 1029.0,921.8 1029.7,922.2 1030.3,923.4 1031.0,924.3 1031.7,924.3 1032.3,924.0 1033.0,923.2 1033.7,922.7 1034.3,922.8 1035.0,922.0 1035.6,921.0 1036.3,921.5 1037.0,922.3 1037.6,922.7 1038.3,923.2 1039.0,923.9 1039.6,924.7 1040.3,925.2 1040.9,924.7 1041.6,924.9 1042.3,925.0 1042.9,924.3 1043.6,924.4 1044.3,925.0 1044.9,925.2 1045.6,925.7 1046.2,926.3 1046.9,926.4 1047.6,925.4 1048.2,924.0 1048.9,923.1 1049.6,922.6 1050.2,922.7 1050.9,923.5 1051.5,924.1 1052.2,923.3 1052.9,922.2 1053.5,922.4 1054.2,923.0 1054.9,923.3 1055.5,923.1 1056.2,923.1 1056.8,923.6 1057.5,924.4 1058.2,925.0 1058.8,924.6 1059.5,923.3 1060.2,922.2 1060.8,922.2 1061.5,923.2 1062.1,923.7 1062.8,923.3 1063.5,923.5 1064.1,923.8 1064.8,922.9 1065.5,921.7 1066.1,922.2 1066.8,924.0 1067.4,924.9 1068.1,924.9 1068.8,925.4 1069.4,925.8 1070.1,925.7 1070.8,925.7 1071.4,924.7 1072.1,922.3 1072.8,919.6 1073.4,918.1 1074.1,917.1 1074.7,915.6 1075.4,913.6 1076.1,912.5 1076.7,913.1 1077.4,914.5 1078.1,915.6 1078.7,916.4 1079.4,917.2 1080.0,918.6 1080.7,919.9 1081.4,920.0 1082.0,919.8 1082.7,920.4 1083.4,922.0 1084.0,923.8 1084.7,924.8 1085.3,924.5 1086.0,923.1 1086.7,922.0 1087.3,922.4 1088.0,923.6 1088.7,924.3 1089.3,924.4 1090.0,925.3 1090.6,926.8 1091.3,927.0 1092.0,925.7 1092.6,924.0 1093.3,922.8 1094.0,923.4 1094.6,924.4 1095.3,923.9 1095.9,923.0 1096.6,923.0 1097.3,922.7 1097.9,921.8 1098.6,921.5 1099.3,922.2 1099.9,923.1 1100.6,923.1 1101.2,922.7 1101.9,922.3 1102.6,921.8 1103.2,921.6 1103.9,922.3 1104.6,923.4 1105.2,924.0 1105.9,923.9 1106.6,923.5 1107.2,923.1 1107.9,923.2 1108.5,924.0 1109.2,924.1 1109.9,923.6 1110.5,923.7 1111.2,923.6 1111.9,923.1 1112.5,924.1 1113.2,925.8 1113.8,925.0 1114.5,923.2 1115.2,922.6 1115.8,922.7 1116.5,922.9 1117.2,923.7 1117.8,924.1 1118.5,923.7 1119.1,923.0 1119.8,922.2 1120.5,922.0 1121.1,922.2 1121.8,922.6 1122.5,923.3 1123.1,923.0 1123.8,922.0 1124.4,922.0 1125.1,922.6 1125.8,923.6 1126.4,924.1 1127.1,924.0 1127.8,923.9 1128.4,923.8 1129.1,923.3 1129.7,922.3 1130.4,921.9 1131.1,922.1 1131.7,922.4 1132.4,923.3 1133.1,924.8 1133.7,924.5 1134.4,922.5 1135.0,921.6 1135.7,922.5 1136.4,924.0 1137.0,925.3 1137.7,925.7 1138.4,925.3 1139.0,924.8 1139.7,924.2 1140.4,923.5 1141.0,922.2 1141.7,920.6 1142.3,920.6 1143.0,921.9 1143.7,923.3 1144.3,924.4 1145.0,924.3 1145.7,923.2 1146.3,922.6 1147.0,923.0 1147.6,923.5 1148.3,924.2 1149.0,924.7 1149.6,923.7 1150.3,922.6 1151.0,922.5 1151.6,922.6 1152.3,922.8 1152.9,922.8 1153.6,921.6 1154.3,920.3 1154.9,920.3 1155.6,921.6 1156.3,923.6 1156.9,925.1 1157.6,925.8 1158.2,925.7 1158.9,924.5 1159.6,922.7 1160.2,922.2 1160.9,923.1 1161.6,924.1 1162.2,925.1 1162.9,925.8 1163.5,926.3 1164.2,926.2 1164.9,925.1 1165.5,924.5 1166.2,924.8 1166.9,925.3 1167.5,925.4 1168.2,925.1 1168.8,924.3 1169.5,923.7 1170.2,923.1 1170.8,921.4 1171.5,919.0 1172.2,917.2 1172.8,917.0 1173.5,918.6 1174.2,920.8 1174.8,921.0 1175.5,917.6 1176.1,914.0 1176.8,914.9 1177.5,918.8 1178.1,919.6 1178.8,918.1 1179.5,916.5 1180.1,914.6 1180.8,913.5 1181.4,913.8 1182.1,915.4 1182.8,917.3 1183.4,917.3 1184.1,915.3 1184.8,914.2 1185.4,914.6 1186.1,913.3 1186.7,911.1 1187.4,910.3 1188.1,910.8 1188.7,911.2 1189.4,909.5 1190.1,906.3 1190.7,904.4 1191.4,905.0 1192.0,906.9 1192.7,908.8 1193.4,908.7 1194.0,907.1 1194.7,906.2 1195.4,905.6 1196.0,904.3 1196.7,902.8 1197.3,904.0 1198.0,906.7 1198.7,907.2 1199.3,907.9 1200.0,909.4 1200.7,910.5 1201.3,912.0 1202.0,914.3 1202.6,915.2 1203.3,913.7 1204.0,910.6 1204.6,908.2 1205.3,908.1 1206.0,910.2 1206.6,913.2 1207.3,913.7 1208.0,910.8 1208.6,907.3 1209.3,904.6 1209.9,903.1 1210.6,904.3 1211.3,906.6 1211.9,906.9 1212.6,904.3 1213.3,903.0 1213.9,903.8 1214.6,905.3 1215.2,906.7 1215.9,905.5 1216.6,903.0 1217.2,902.8 1217.9,904.2 1218.6,905.6 1219.2,906.4 1219.9,905.9 1220.5,905.4 1221.2,907.0 1221.9,909.3 1222.5,912.0 1223.2,915.9 1223.9,918.7 1224.5,915.8 1225.2,909.4 1225.8,906.9 1226.5,908.6 1227.2,909.4 1227.8,908.9 1228.5,907.7 1229.2,906.7 1229.8,908.3 1230.5,910.3 1231.1,908.4 1231.8,902.8 1232.5,898.9 1233.1,899.2 1233.8,901.7 1234.5,903.3 1235.1,903.3 1235.8,901.8 1236.4,899.2 1237.1,899.1 1237.8,902.7 1238.4,906.2 1239.1,906.4 1239.8,905.9 1240.4,906.8 1241.1,908.4 1241.8,910.4 1242.4,911.5 1243.1,910.2 1243.7,909.5 1244.4,911.0 1245.1,911.6 1245.7,912.1 1246.4,914.2 1247.1,916.1 1247.7,917.3 1248.4,917.7 1249.0,917.5 1249.7,916.6 1250.4,915.1 1251.0,914.5 1251.7,915.3 1252.4,915.0 1253.0,912.5 1253.7,912.6 1254.3,914.3 1255.0,914.1 1255.7,913.3 1256.3,913.5 1257.0,913.0 1257.7,911.3 1258.3,909.7 1259.0,908.5 1259.6,906.6 1260.3,904.7 1261.0,903.0 1261.6,901.9 1262.3,903.3 1263.0,905.0 1263.6,904.7 1264.3,904.5 1264.9,904.5 1265.6,903.2 1266.3,902.3 1266.9,904.5 1267.6,907.1 1268.3,908.0 1268.9,908.3 1269.6,910.5 1270.2,913.4 1270.9,913.3 1271.6,911.1 1272.2,911.0 1272.9,912.7 1273.6,911.4 1274.2,907.8 1274.9,906.6 1275.6,907.3 1276.2,905.6 1276.9,902.7 1277.5,901.9 1278.2,902.0 1278.9,902.2 1279.5,902.1 1280.2,901.4 1280.9,902.5 1281.5,904.5 1282.2,904.3 1282.8,903.4 1283.5,904.3 1284.2,906.1 1284.8,907.4 1285.5,907.9 1286.2,908.0 1286.8,908.4 1287.5,910.9 1288.1,913.9 1288.8,914.9 1289.5,914.6 1290.1,914.3 1290.8,913.8 1291.5,911.9 1292.1,909.5 1292.8,908.7 1293.4,909.3 1294.1,910.6 1294.8,913.4 1295.4,915.5 1296.1,914.9 1296.8,914.0 1297.4,914.5 1298.1,912.2 1298.7,906.1 1299.4,902.1 1300.1,903.1 1300.7,905.2 1301.4,903.4 1302.1,900.2 1302.7,899.8 1303.4,900.8 1304.0,901.1 1304.7,900.7 1305.4,898.0 1306.0,895.3 1306.7,898.6 1307.4,905.2 1308.0,908.5 1308.7,908.3 1309.4,908.3 1310.0,909.2 1310.7,910.6 1311.3,911.5 1312.0,912.9 1312.7,916.0 1313.3,918.4 1314.0,917.8 1314.7,915.6 1315.3,913.5 1316.0,912.2 1316.6,911.4 1317.3,911.2 1318.0,910.0 1318.6,906.8 1319.3,905.2 1320.0,906.8 1320.6,907.9 1321.3,907.6 1321.9,908.3 1322.6,910.4 1323.3,912.9 1323.9,914.6 1324.6,913.8 1325.3,910.9 1325.9,910.1 1326.6,911.9 1327.2,912.4 1327.9,912.2 1328.6,913.1 1329.2,914.3 1329.9,915.4 1330.6,915.2 1331.2,912.0 1331.9,906.8 1332.5,902.2 1333.2,901.3 1333.9,901.6 1334.5,898.6 1335.2,893.6 1335.9,891.5 1336.5,893.4 1337.2,896.8 1337.8,899.5 1338.5,900.5 1339.2,901.2 1339.8,901.9 1340.5,903.9"/><polyline stroke="#2b8f66" points="180.7,805.1 181.4,799.6 182.0,790.6 182.7,787.4 183.4,790.8 184.0,797.7 184.7,805.8 185.3,810.9 186.0,808.3 186.7,798.4 187.3,791.7 188.0,789.1 188.7,786.6 189.3,783.9 190.0,777.0 190.6,769.3 191.3,770.5 192.0,775.5 192.6,776.6 193.3,772.0 194.0,764.5 194.6,761.5 195.3,755.3 195.9,745.0 196.6,748.3 197.3,763.6 197.9,771.6 198.6,770.8 199.3,774.8 199.9,785.3 200.6,789.7 201.2,787.9 201.9,788.7 202.6,794.4 203.2,808.0 203.9,828.3 204.6,844.7 205.2,844.4 205.9,824.9 206.5,805.5 207.2,795.2 207.9,785.2 208.5,780.0 209.2,783.4 209.9,787.2 210.5,789.0 211.2,788.4 211.8,781.2 212.5,769.0 213.2,759.9 213.8,760.8 214.5,768.0 215.2,775.4 215.8,782.3 216.5,784.9 217.2,784.0 217.8,785.1 218.5,787.4 219.1,791.0 219.8,796.4 220.5,797.8 221.1,791.9 221.8,784.4 222.5,781.0 223.1,787.9 223.8,811.5 224.4,831.1 225.1,823.2 225.8,807.2 226.4,808.6 227.1,817.2 227.8,814.1 228.4,800.9 229.1,793.3 229.7,793.9 230.4,794.3 231.1,796.0 231.7,805.7 232.4,815.4 233.1,814.9 233.7,811.0 234.4,808.5 235.0,809.7 235.7,817.1 236.4,814.3 237.0,792.4 237.7,775.7 238.4,775.6 239.0,780.1 239.7,784.5 240.3,789.1 241.0,791.9 241.7,798.0 242.3,808.7 243.0,815.9 243.7,811.2 244.3,799.4 245.0,795.8 245.6,805.7 246.3,818.8 247.0,822.2 247.6,816.1 248.3,816.2 249.0,825.9 249.6,835.9 250.3,842.4 251.0,840.9 251.6,839.4 252.3,844.0 252.9,841.7 253.6,828.2 254.3,816.9 254.9,813.2 255.6,812.0 256.3,810.3 256.9,808.2 257.6,810.3 258.2,813.4 258.9,811.3 259.6,802.9 260.2,792.7 260.9,793.4 261.6,809.5 262.2,830.3 262.9,843.2 263.5,843.7 264.2,837.8 264.9,833.4 265.5,831.6 266.2,832.1 266.9,837.8 267.5,844.8 268.2,840.7 268.8,828.5 269.5,823.4 270.2,825.3 270.8,829.1 271.5,837.3 272.2,845.8 272.8,845.2 273.5,834.7 274.1,823.9 274.8,818.6 275.5,819.9 276.1,823.7 276.8,824.4 277.5,825.1 278.1,830.0 278.8,833.2 279.4,829.2 280.1,820.5 280.8,813.1 281.4,812.4 282.1,818.3 282.8,825.4 283.4,830.0 284.1,828.5 284.8,821.7 285.4,817.4 286.1,821.6 286.7,827.9 287.4,829.6 288.1,831.5 288.7,835.9 289.4,836.2 290.1,825.8 290.7,812.4 291.4,810.4 292.0,818.6 292.7,826.7 293.4,825.1 294.0,813.2 294.7,800.7 295.4,795.1 296.0,794.7 296.7,793.9 297.3,798.0 298.0,809.3 298.7,820.6 299.3,827.9 300.0,828.7 300.7,825.8 301.3,828.1 302.0,835.8 302.6,841.0 303.3,845.4 304.0,853.0 304.6,858.7 305.3,859.9 306.0,854.4 306.6,842.2 307.3,828.2 307.9,819.5 308.6,821.8 309.3,833.1 309.9,846.4 310.6,856.4 311.3,862.9 311.9,863.4 312.6,859.6 313.2,861.3 313.9,864.1 314.6,858.2 315.2,848.3 315.9,845.1 316.6,849.1 317.2,854.0 317.9,858.8 318.6,861.9 319.2,862.1 319.9,863.3 320.5,864.5 321.2,864.2 321.9,865.7 322.5,867.7 323.2,869.6 323.9,869.6 324.5,866.2 325.2,864.0 325.8,864.0 326.5,860.5 327.2,857.6 327.8,860.4 328.5,862.9 329.2,863.5 329.8,864.9 330.5,865.5 331.1,864.6 331.8,863.1 332.5,863.4 333.1,862.5 333.8,860.0 334.5,862.5 335.1,868.9 335.8,873.0 336.4,871.7 337.1,867.0 337.8,862.9 338.4,864.1 339.1,868.1 339.8,866.0 340.4,860.0 341.1,856.7 341.7,854.5 342.4,853.2 343.1,855.8 343.7,858.6 344.4,857.0 345.1,854.3 345.7,858.0 346.4,865.7 347.0,870.4 347.7,869.9 348.4,865.9 349.0,865.6 349.7,871.5 350.4,878.1 351.0,878.7 351.7,873.2 352.4,869.1 353.0,867.7 353.7,868.5 354.3,872.5 355.0,877.0 355.7,877.6 356.3,871.7 357.0,865.0 357.7,866.6 358.3,873.6 359.0,882.5 359.6,889.5 360.3,888.0 361.0,883.7 361.6,882.9 362.3,884.6 363.0,885.2 363.6,882.3 364.3,883.1 364.9,889.4 365.6,890.5 366.3,884.8 366.9,880.1 367.6,877.8 368.3,876.4 368.9,878.3 369.6,882.5 370.2,886.4 370.9,891.5 371.6,893.9 372.2,885.8 372.9,869.3 373.6,855.1 374.2,849.4 374.9,849.5 375.5,847.5 376.2,843.7 376.9,843.4 377.5,847.7 378.2,857.5 378.9,870.9 379.5,879.0 380.2,874.5 380.8,864.4 381.5,860.2 382.2,864.1 382.8,871.7 383.5,877.0 384.2,877.6 384.8,874.7 385.5,871.2 386.2,868.4 386.8,869.2 387.5,874.2 388.1,878.8 388.8,879.8 389.5,877.8 390.1,875.9 390.8,872.3 391.5,865.1 392.1,859.0 392.8,858.6 393.4,860.7 394.1,860.7 394.8,860.6 395.4,863.8 396.1,867.6 396.8,870.1 397.4,873.2 398.1,875.9 398.7,876.0 399.4,877.2 400.1,879.0 400.7,876.1 401.4,875.0 402.1,880.3 402.7,886.6 403.4,889.7 404.0,889.0 404.7,887.7 405.4,888.7 406.0,891.3 406.7,892.4 407.4,891.4 408.0,890.2 408.7,889.1 409.3,888.7 410.0,888.4 410.7,887.8 411.3,889.9 412.0,893.6 412.7,894.7 413.3,896.1 414.0,899.0 414.6,900.3 415.3,898.4 416.0,895.0 416.6,892.4 417.3,890.6 418.0,888.5 418.6,886.6 419.3,884.5 420.0,884.3 420.6,884.1 421.3,880.1 421.9,878.0 422.6,881.6 423.3,885.7 423.9,888.1 424.6,890.0 425.3,891.1 425.9,889.8 426.6,886.4 427.2,883.9 427.9,882.1 428.6,879.8 429.2,879.8 429.9,882.1 430.6,882.1 431.2,880.1 431.9,884.0 432.5,891.9 433.2,893.1 433.9,886.2 434.5,878.1 435.2,874.8 435.9,875.3 436.5,874.8 437.2,872.6 437.8,867.9 438.5,858.3 439.2,845.7 439.8,833.4 440.5,824.7 441.2,822.1 441.8,824.7 442.5,831.7 443.1,842.6 443.8,854.5 444.5,866.4 445.1,878.6 445.8,887.8 446.5,891.0 447.1,890.3 447.8,887.7 448.4,884.9 449.1,883.6 449.8,884.0 450.4,885.4 451.1,885.9 451.8,885.1 452.4,884.5 453.1,884.3 453.8,883.4 454.4,881.4 455.1,878.7 455.7,874.4 456.4,869.2 457.1,867.5 457.7,870.5 458.4,873.3 459.1,873.1 459.7,872.3 460.4,871.7 461.0,870.8 461.7,870.9 462.4,872.0 463.0,874.8 463.7,880.2 464.4,884.7 465.0,887.4 465.7,890.6 466.3,891.9 467.0,888.6 467.7,883.1 468.3,880.2 469.0,881.5 469.7,883.8 470.3,881.8 471.0,873.3 471.6,859.2 472.3,838.2 473.0,810.1 473.6,777.5 474.3,748.5 475.0,735.0 475.6,741.3 476.3,760.9 476.9,787.7 477.6,815.3 478.3,840.1 478.9,860.5 479.6,874.1 480.3,882.8 480.9,889.8 481.6,895.0 482.2,897.9 482.9,900.4 483.6,901.6 484.2,901.6 484.9,905.0 485.6,908.5 486.2,904.7 486.9,897.0 487.5,894.6 488.2,898.8 488.9,902.3 489.5,900.1 490.2,896.2 490.9,895.9 491.5,897.9 492.2,898.3 492.9,897.0 493.5,895.9 494.2,894.6 494.8,892.3 495.5,891.5 496.2,894.0 496.8,897.8 497.5,898.4 498.2,895.3 498.8,894.2 499.5,898.0 500.1,901.0 500.8,897.4 501.5,888.4 502.1,879.4 502.8,872.6 503.5,865.8 504.1,858.5 504.8,854.7 505.4,857.3 506.1,864.0 506.8,871.7 507.4,879.0 508.1,886.0 508.8,892.8 509.4,898.2 510.1,900.4 510.7,899.2 511.4,896.5 512.1,894.0 512.7,892.2 513.4,894.0 514.1,897.5 514.7,898.7 515.4,899.7 516.0,900.8 516.7,899.9 517.4,898.6 518.0,898.9 518.7,899.5 519.4,898.5 520.0,897.2 520.7,896.9 521.3,896.7 522.0,896.0 522.7,901.0 523.3,920.9 524.0,928.0 524.7,885.0 525.3,826.0 526.0,775.1 526.7,722.4 527.3,666.5 528.0,620.2 528.6,602.4 529.3,620.6 530.0,665.0 530.6,721.1 531.3,776.8 532.0,822.6 532.6,855.1 533.3,875.5 533.9,885.0 534.6,887.6 535.3,889.3 535.9,893.0 536.6,897.2 537.3,899.2 537.9,898.2 538.6,894.6 539.2,890.5 539.9,886.9 540.6,883.0 541.2,878.9 541.9,876.3 542.6,878.0 543.2,883.4 543.9,888.2 544.5,890.5 545.2,891.9 545.9,894.3 546.5,897.7 547.2,898.7 547.9,893.5 548.5,882.2 549.2,869.8 549.8,859.1 550.5,850.4 551.2,844.5 551.8,841.3 552.5,843.3 553.2,851.4 553.8,861.7 554.5,870.9 555.1,878.4 555.8,884.4 556.5,889.9 557.1,892.8 557.8,891.2 558.5,884.9 559.1,876.7 559.8,870.2 560.5,867.7 561.1,870.8 561.8,878.7 562.4,886.6 563.1,891.8 563.8,896.8 564.4,901.7 565.1,902.8 565.8,900.9 566.4,900.3 567.1,902.0 567.7,904.7 568.4,907.4 569.1,908.7 569.7,908.9 570.4,909.1 571.1,909.2 571.7,908.3 572.4,906.7 573.0,905.4 573.7,903.9 574.4,903.2 575.0,904.2 575.7,904.6 576.4,903.9 577.0,904.0 577.7,904.3 578.3,904.7 579.0,903.5 579.7,897.2 580.3,885.3 581.0,867.7 581.7,843.7 582.3,814.1 583.0,781.9 583.6,753.5 584.3,736.8 585.0,738.0 585.6,756.5 586.3,784.8 587.0,813.3 587.6,838.4 588.3,860.9 588.9,878.6 589.6,887.9 590.3,890.8 590.9,892.5 591.6,896.0 592.3,899.6 592.9,900.0 593.6,897.0 594.3,892.9 594.9,888.3 595.6,884.3 596.2,882.0 596.9,882.0 597.6,883.8 598.2,887.8 598.9,892.8 599.6,895.4 600.2,894.2 600.9,891.3 601.5,887.9 602.2,884.2 602.9,879.7 603.5,875.5 604.2,874.8 604.9,877.6 605.5,882.1 606.2,888.2 606.8,893.8 607.5,898.2 608.2,903.8 608.8,909.9 609.5,912.8 610.2,914.3 610.8,917.7 611.5,919.9 612.1,917.7 612.8,914.2 613.5,912.8 614.1,913.4 614.8,914.2 615.5,914.3 616.1,914.1 616.8,913.6 617.4,912.8 618.1,912.2 618.8,911.4 619.4,909.4 620.1,909.0 620.8,911.9 621.4,915.2 622.1,915.5 622.7,914.8 623.4,914.8 624.1,914.8 624.7,914.1 625.4,912.5 626.1,911.6 626.7,911.0 627.4,909.9 628.1,910.1 628.7,911.7 629.4,911.7 630.0,908.3 630.7,904.2 631.4,901.7 632.0,898.5 632.7,892.3 633.4,886.6 634.0,885.2 634.7,888.0 635.3,892.0 636.0,895.0 636.7,896.4 637.3,897.5 638.0,899.8 638.7,902.9 639.3,904.4 640.0,902.9 640.6,899.8 641.3,897.4 642.0,897.2 642.6,897.8 643.3,899.4 644.0,901.7 644.6,903.7 645.3,906.2 645.9,908.8 646.6,909.4 647.3,908.5 647.9,908.9 648.6,910.7 649.3,911.6 649.9,912.7 650.6,914.1 651.2,914.6 651.9,914.2 652.6,913.7 653.2,913.1 653.9,911.9 654.6,910.4 655.2,911.6 655.9,915.2 656.5,917.3 657.2,915.9 657.9,913.1 658.5,910.1 659.2,907.9 659.9,907.6 660.5,909.1 661.2,910.9 661.9,911.9 662.5,911.3 663.2,910.2 663.8,910.7 664.5,911.8 665.2,911.7 665.8,910.8 666.5,910.8 667.2,912.1 667.8,913.2 668.5,912.9 669.1,911.9 669.8,909.7 670.5,906.6 671.1,903.2 671.8,897.6 672.5,888.1 673.1,878.0 673.8,870.7 674.4,868.9 675.1,872.6 675.8,877.5 676.4,882.0 677.1,887.6 677.8,894.3 678.4,899.9 679.1,904.2 679.7,907.8 680.4,909.9 681.1,911.2 681.7,913.1 682.4,915.5 683.1,918.8 683.7,921.5 684.4,921.9 685.0,920.8 685.7,919.6 686.4,918.1 687.0,916.6 687.7,915.8 688.4,915.7 689.0,915.7 689.7,915.1 690.3,913.5 691.0,910.9 691.7,908.4 692.3,906.3 693.0,903.1 693.7,897.8 694.3,890.5 695.0,883.1 695.7,878.5 696.3,878.4 697.0,882.6 697.6,888.2 698.3,893.1 699.0,897.1 699.6,900.2 700.3,901.7 701.0,900.9 701.6,899.2 702.3,897.8 702.9,896.2 703.6,893.9 704.3,891.1 704.9,887.9 705.6,884.7 706.3,883.6 706.9,885.1 707.6,888.0 708.2,892.7 708.9,897.9 709.6,901.3 710.2,903.1 710.9,904.6 711.6,905.1 712.2,905.1 712.9,907.3 713.5,911.3 714.2,914.4 714.9,916.8 715.5,917.7 716.2,916.3 716.9,914.5 717.5,914.2 718.2,913.6 718.8,912.3 719.5,911.8 720.2,911.3 720.8,910.8 721.5,912.3 722.2,914.8 722.8,915.5 723.5,913.5 724.1,910.3 724.8,907.9 725.5,907.7 726.1,909.3 726.8,910.1 727.5,909.7 728.1,910.5 728.8,912.1 729.5,911.8 730.1,909.0 730.8,906.2 731.4,904.5 732.1,903.0 732.8,901.2 733.4,899.4 734.1,895.5 734.8,891.1 735.4,889.6 736.1,890.4 736.7,890.6 737.4,891.3 738.1,893.9 738.7,896.6 739.4,898.2 740.1,899.6 740.7,900.0 741.4,899.2 742.0,898.1 742.7,897.5 743.4,898.7 744.0,900.7 744.7,901.7 745.4,902.5 746.0,904.6 746.7,907.0 747.3,909.3 748.0,910.7 748.7,909.8 749.3,906.1 750.0,900.3 750.7,894.7 751.3,892.0 752.0,891.7 752.6,891.8 753.3,891.5 754.0,890.4 754.6,889.6 755.3,892.8 756.0,897.6 756.6,899.3 757.3,899.5 757.9,901.8 758.6,905.2 759.3,908.5 759.9,911.1 760.6,911.9 761.3,910.3 761.9,907.1 762.6,903.1 763.3,898.5 763.9,894.4 764.6,892.4 765.2,892.3 765.9,892.9 766.6,892.5 767.2,891.3 767.9,892.9 768.6,898.1 769.2,904.6 769.9,909.5 770.5,912.7 771.2,915.7 771.9,917.2 772.5,916.9 773.2,916.0 773.9,915.9 774.5,918.0 775.2,920.5 775.8,921.4 776.5,921.1 777.2,920.3 777.8,920.2 778.5,920.6 779.2,920.2 779.8,918.2 780.5,914.5 781.1,910.9 781.8,909.0 782.5,908.0 783.1,906.5 783.8,904.6 784.5,903.8 785.1,905.4 785.8,907.6 786.4,908.0 787.1,905.9 787.8,901.3 788.4,894.1 789.1,885.1 789.8,875.4 790.4,865.7 791.1,856.5 791.7,849.6 792.4,846.7 793.1,847.8 793.7,850.9 794.4,855.7 795.1,863.9 795.7,875.6 796.4,886.6 797.1,895.1 797.7,900.8 798.4,904.0 799.0,907.2 799.7,911.2 800.4,912.8 801.0,911.5 801.7,909.0 802.4,906.3 803.0,904.1 803.7,902.1 804.3,899.1 805.0,894.9 805.7,890.9 806.3,888.0 807.0,886.6 807.7,885.1 808.3,881.7 809.0,876.9 809.6,873.3 810.3,871.9 811.0,873.3 811.6,878.0 812.3,883.8 813.0,888.6 813.6,890.3 814.3,888.6 814.9,885.9 815.6,884.2 816.3,882.4 816.9,879.2 817.6,876.0 818.3,875.6 818.9,877.8 819.6,880.4 820.2,884.5 820.9,890.6 821.6,895.5 822.2,897.9 822.9,899.8 823.6,901.7 824.2,903.9 824.9,907.3 825.5,911.9 826.2,915.0 826.9,915.1 827.5,914.6 828.2,914.3 828.9,913.9 829.5,913.3 830.2,913.0 830.9,912.2 831.5,911.2 832.2,910.4 832.8,909.2 833.5,907.0 834.2,903.8 834.8,900.9 835.5,900.4 836.2,900.6 836.8,899.4 837.5,898.7 838.1,900.2 838.8,903.7 839.5,907.6 840.1,909.1 840.8,907.5 841.5,907.1 842.1,909.9 842.8,911.8 843.4,911.9 844.1,914.1 844.8,916.9 845.4,916.2 846.1,912.9 846.8,907.9 847.4,902.9 848.1,900.8 848.7,900.9 849.4,900.4 850.1,900.1 850.7,901.1 851.4,902.0 852.1,902.1 852.7,902.0 853.4,902.3 854.0,901.8 854.7,899.6 855.4,897.3 856.0,896.9 856.7,898.9 857.4,901.1 858.0,902.3 858.7,903.4 859.3,905.0 860.0,905.4 860.7,904.8 861.3,904.8 862.0,905.1 862.7,904.4 863.3,902.9 864.0,901.7 864.7,901.4 865.3,899.5 866.0,895.4 866.6,891.1 867.3,887.5 868.0,885.2 868.6,885.5 869.3,889.5 870.0,895.6 870.6,901.9 871.3,907.2 871.9,910.6 872.6,913.4 873.3,917.3 873.9,921.2 874.6,921.7 875.3,919.2 875.9,917.8 876.6,918.3 877.2,919.0 877.9,918.9 878.6,917.7 879.2,915.9 879.9,914.8 880.6,915.1 881.2,916.8 881.9,917.7 882.5,916.2 883.2,914.2 883.9,912.4 884.5,909.6 885.2,904.8 885.9,898.7 886.5,892.6 887.2,887.3 887.8,881.0 888.5,871.6 889.2,860.9 889.8,851.7 890.5,843.8 891.2,836.8 891.8,831.9 892.5,831.7 893.1,836.3 893.8,844.0 894.5,853.8 895.1,865.7 895.8,876.2 896.5,882.0 897.1,884.8 897.8,887.1 898.5,889.6 899.1,890.3 899.8,889.2 900.4,887.7 901.1,885.3 901.8,881.9 902.4,881.5 903.1,885.5 903.8,890.3 904.4,893.7 905.1,896.1 905.7,898.5 906.4,901.5 907.1,905.5 907.7,910.4 908.4,914.6 909.1,916.3 909.7,915.1 910.4,912.2 911.0,910.2 911.7,910.4 912.4,911.7 913.0,911.5 913.7,908.5 914.4,904.1 915.0,898.8 915.7,895.5 916.3,895.6 917.0,897.3 917.7,900.2 918.3,904.3 919.0,907.1 919.7,907.6 920.3,907.1 921.0,907.4 921.6,908.9 922.3,911.8 923.0,915.4 923.6,917.6 924.3,917.1 925.0,915.8 925.6,913.9 926.3,911.6 926.9,910.1 927.6,908.8 928.3,907.5 928.9,906.4 929.6,905.3 930.3,905.1 930.9,906.5 931.6,909.1 932.3,911.6 932.9,912.3 933.6,911.0 934.2,909.6 934.9,909.7 935.6,909.9 936.2,909.7 936.9,910.1 937.6,910.7 938.2,909.0 938.9,906.7 939.5,905.8 940.2,904.9 940.9,903.3 941.5,902.2 942.2,902.3 942.9,902.7 943.5,902.1 944.2,902.2 944.8,906.1 945.5,911.9 946.2,915.4 946.8,915.9 947.5,915.2 948.2,913.3 948.8,909.4 949.5,905.7 950.1,905.5 950.8,907.4 951.5,908.1 952.1,906.8 952.8,904.3 953.5,902.5 954.1,903.3 954.8,904.2 955.4,903.0 956.1,901.1 956.8,900.4 957.4,902.7 958.1,907.3 958.8,909.9 959.4,908.2 960.1,905.9 960.7,906.9 961.4,909.8 962.1,909.3 962.7,905.0 963.4,901.8 964.1,901.6 964.7,902.3 965.4,903.3 966.1,904.8 966.7,905.4 967.4,903.9 968.0,901.8 968.7,901.3 969.4,903.6 970.0,906.9 970.7,908.7 971.4,910.1 972.0,912.1 972.7,912.8 973.3,912.5 974.0,913.3 974.7,915.2 975.3,916.5 976.0,916.3 976.7,915.2 977.3,914.7 978.0,914.4 978.6,914.2 979.3,914.8 980.0,914.8 980.6,913.1 981.3,912.5 982.0,913.9 982.6,915.4 983.3,916.2 983.9,918.0 984.6,918.6 985.3,916.1 985.9,913.2 986.6,912.2 987.3,911.2 987.9,910.5 988.6,911.2 989.2,912.1 989.9,911.9 990.6,911.6 991.2,911.4 991.9,911.0 992.6,910.5 993.2,910.2 993.9,909.5 994.5,909.2 995.2,909.3 995.9,908.4 996.5,906.4 997.2,904.0 997.9,901.4 998.5,897.4 999.2,891.9 999.9,886.7 1000.5,884.1 1001.2,883.3 1001.8,883.2 1002.5,884.9 1003.2,888.2 1003.8,891.5 1004.5,895.2 1005.2,899.0 1005.8,903.0 1006.5,907.9 1007.1,911.8 1007.8,913.5 1008.5,913.7 1009.1,913.0 1009.8,912.4 1010.5,912.7 1011.1,912.7 1011.8,912.0 1012.4,911.8 1013.1,912.2 1013.8,911.2 1014.4,908.5 1015.1,906.8 1015.8,907.2 1016.4,908.7 1017.1,910.2 1017.7,911.0 1018.4,911.6 1019.1,912.1 1019.7,912.2 1020.4,912.8 1021.1,912.9 1021.7,910.4 1022.4,907.2 1023.0,905.8 1023.7,906.6 1024.4,908.5 1025.0,909.9 1025.7,910.8 1026.4,911.7 1027.0,912.1 1027.7,912.8 1028.3,914.4 1029.0,914.8 1029.7,914.8 1030.3,916.5 1031.0,918.0 1031.7,917.3 1032.3,916.2 1033.0,916.0 1033.7,915.2 1034.3,911.9 1035.0,907.4 1035.6,904.5 1036.3,904.6 1037.0,905.6 1037.6,905.6 1038.3,905.5 1039.0,906.0 1039.6,905.9 1040.3,905.8 1040.9,907.2 1041.6,910.0 1042.3,912.8 1042.9,914.5 1043.6,914.8 1044.3,913.6 1044.9,912.3 1045.6,911.4 1046.2,911.7 1046.9,912.5 1047.6,912.5 1048.2,912.0 1048.9,912.6 1049.6,913.7 1050.2,913.5 1050.9,912.1 1051.5,912.1 1052.2,913.5 1052.9,914.3 1053.5,914.1 1054.2,915.1 1054.9,916.8 1055.5,917.4 1056.2,916.7 1056.8,915.9 1057.5,915.9 1058.2,915.7 1058.8,913.7 1059.5,910.7 1060.2,909.8 1060.8,911.4 1061.5,912.8 1062.1,912.8 1062.8,911.8 1063.5,909.6 1064.1,906.9 1064.8,904.5 1065.5,902.5 1066.1,902.6 1066.8,905.0 1067.4,906.7 1068.1,906.9 1068.8,908.3 1069.4,910.9 1070.1,912.7 1070.8,913.5 1071.4,913.7 1072.1,912.0 1072.8,910.1 1073.4,909.8 1074.1,910.0 1074.7,909.6 1075.4,908.7 1076.1,908.3 1076.7,909.4 1077.4,910.8 1078.1,911.0 1078.7,910.1 1079.4,909.0 1080.0,909.1 1080.7,910.3 1081.4,911.5 1082.0,911.8 1082.7,911.9 1083.4,912.2 1084.0,912.2 1084.7,911.6 1085.3,910.0 1086.0,908.3 1086.7,907.1 1087.3,906.7 1088.0,908.9 1088.7,913.2 1089.3,915.8 1090.0,915.7 1090.6,914.9 1091.3,913.5 1092.0,912.3 1092.6,912.6 1093.3,913.2 1094.0,912.5 1094.6,911.1 1095.3,909.7 1095.9,908.3 1096.6,908.6 1097.3,910.6 1097.9,911.5 1098.6,911.7 1099.3,912.4 1099.9,912.5 1100.6,912.4 1101.2,912.6 1101.9,912.0 1102.6,910.8 1103.2,909.2 1103.9,907.3 1104.6,905.8 1105.2,905.6 1105.9,907.8 1106.6,911.1 1107.2,912.9 1107.9,913.0 1108.5,912.4 1109.2,912.8 1109.9,913.9 1110.5,913.2 1111.2,911.4 1111.9,910.0 1112.5,908.1 1113.2,905.2 1113.8,903.6 1114.5,903.7 1115.2,903.9 1115.8,904.2 1116.5,904.1 1117.2,903.6 1117.8,903.7 1118.5,904.8 1119.1,905.9 1119.8,905.7 1120.5,904.9 1121.1,905.5 1121.8,907.4 1122.5,910.4 1123.1,912.1 1123.8,911.0 1124.4,910.1 1125.1,910.9 1125.8,912.3 1126.4,912.6 1127.1,911.3 1127.8,908.8 1128.4,906.4 1129.1,905.6 1129.7,906.5 1130.4,907.6 1131.1,907.4 1131.7,906.4 1132.4,906.1 1133.1,907.0 1133.7,908.3 1134.4,909.4 1135.0,910.2 1135.7,910.4 1136.4,910.7 1137.0,912.2 1137.7,913.3 1138.4,912.7 1139.0,912.5 1139.7,913.9 1140.4,915.2 1141.0,915.0 1141.7,914.5 1142.3,914.3 1143.0,913.8 1143.7,912.8 1144.3,911.6 1145.0,911.3 1145.7,912.5 1146.3,913.8 1147.0,914.3 1147.6,914.3 1148.3,914.4 1149.0,915.0 1149.6,915.8 1150.3,916.0 1151.0,915.5 1151.6,915.6 1152.3,916.2 1152.9,916.0 1153.6,915.3 1154.3,914.8 1154.9,912.9 1155.6,909.8 1156.3,907.7 1156.9,908.7 1157.6,911.8 1158.2,914.3 1158.9,914.5 1159.6,913.7 1160.2,913.5 1160.9,912.2 1161.6,910.0 1162.2,909.8 1162.9,910.5 1163.5,910.5 1164.2,911.6 1164.9,912.9 1165.5,912.3 1166.2,911.6 1166.9,912.6 1167.5,913.8 1168.2,914.3 1168.8,914.9 1169.5,914.4 1170.2,913.3 1170.8,914.0 1171.5,915.8 1172.2,916.3 1172.8,915.0 1173.5,914.3 1174.2,915.1 1174.8,916.2 1175.5,917.6 1176.1,919.3 1176.8,919.5 1177.5,916.9 1178.1,914.3 1178.8,913.2 1179.5,912.4 1180.1,911.8 1180.8,911.8 1181.4,913.0 1182.1,914.6 1182.8,914.9 1183.4,914.1 1184.1,913.7 1184.8,914.4 1185.4,915.4 1186.1,915.9 1186.7,914.5 1187.4,911.5 1188.1,909.5 1188.7,909.4 1189.4,910.0 1190.1,909.9 1190.7,910.0 1191.4,910.3 1192.0,908.5 1192.7,905.0 1193.4,903.6 1194.0,905.8 1194.7,909.2 1195.4,911.0 1196.0,910.6 1196.7,909.5 1197.3,908.7 1198.0,908.7 1198.7,910.2 1199.3,913.0 1200.0,914.8 1200.7,914.4 1201.3,913.1 1202.0,913.6 1202.6,915.3 1203.3,915.4 1204.0,913.8 1204.6,911.6 1205.3,911.0 1206.0,913.4 1206.6,916.0 1207.3,915.9 1208.0,914.3 1208.6,913.3 1209.3,913.1 1209.9,912.8 1210.6,911.7 1211.3,909.5 1211.9,907.2 1212.6,906.4 1213.3,908.0 1213.9,910.4 1214.6,911.5 1215.2,911.5 1215.9,911.5 1216.6,911.1 1217.2,909.3 1217.9,908.0 1218.6,909.4 1219.2,910.8 1219.9,909.0 1220.5,907.0 1221.2,908.5 1221.9,911.7 1222.5,912.7 1223.2,912.4 1223.9,912.8 1224.5,913.5 1225.2,912.6 1225.8,911.1 1226.5,909.8 1227.2,907.4 1227.8,904.4 1228.5,902.4 1229.2,902.3 1229.8,903.3 1230.5,903.5 1231.1,902.7 1231.8,902.9 1232.5,904.3 1233.1,904.9 1233.8,903.7 1234.5,902.6 1235.1,902.4 1235.8,902.5 1236.4,903.9 1237.1,907.6 1237.8,911.0 1238.4,911.7 1239.1,910.2 1239.8,909.1 1240.4,908.9 1241.1,909.4 1241.8,910.9 1242.4,911.9 1243.1,911.7 1243.7,911.3 1244.4,911.6 1245.1,912.6 1245.7,915.3 1246.4,918.0 1247.1,917.8 1247.7,915.3 1248.4,913.5 1249.0,913.3 1249.7,912.3 1250.4,911.2 1251.0,912.8 1251.7,915.9 1252.4,917.9 1253.0,917.5 1253.7,915.2 1254.3,914.4 1255.0,916.5 1255.7,918.2 1256.3,917.8 1257.0,916.5 1257.7,915.0 1258.3,913.3 1259.0,911.8 1259.6,910.4 1260.3,910.2 1261.0,911.1 1261.6,910.7 1262.3,908.6 1263.0,906.4 1263.6,905.5 1264.3,905.9 1264.9,905.4 1265.6,905.0 1266.3,906.4 1266.9,909.0 1267.6,911.2 1268.3,911.4 1268.9,910.9 1269.6,912.8 1270.2,915.9 1270.9,917.0 1271.6,915.3 1272.2,911.8 1272.9,909.7 1273.6,910.1 1274.2,910.8 1274.9,909.8 1275.6,907.3 1276.2,904.7 1276.9,903.2 1277.5,903.8 1278.2,905.8 1278.9,907.2 1279.5,907.2 1280.2,905.5 1280.9,903.9 1281.5,904.1 1282.2,905.9 1282.8,908.4 1283.5,909.8 1284.2,910.0 1284.8,910.2 1285.5,910.5 1286.2,910.6 1286.8,910.2 1287.5,910.1 1288.1,910.3 1288.8,909.1 1289.5,907.3 1290.1,906.8 1290.8,907.6 1291.5,909.1 1292.1,911.0 1292.8,912.0 1293.4,910.4 1294.1,907.6 1294.8,906.7 1295.4,907.8 1296.1,909.3 1296.8,910.3 1297.4,910.6 1298.1,910.7 1298.7,910.0 1299.4,909.1 1300.1,909.4 1300.7,909.4 1301.4,908.2 1302.1,906.8 1302.7,907.3 1303.4,909.1 1304.0,909.3 1304.7,908.6 1305.4,909.2 1306.0,910.4 1306.7,910.6 1307.4,909.1 1308.0,906.6 1308.7,905.2 1309.4,905.4 1310.0,907.0 1310.7,910.1 1311.3,913.0 1312.0,914.4 1312.7,915.1 1313.3,914.8 1314.0,914.7 1314.7,915.2 1315.3,915.3 1316.0,914.7 1316.6,913.9 1317.3,913.0 1318.0,912.3 1318.6,911.9 1319.3,911.5 1320.0,911.4 1320.6,911.8 1321.3,912.3 1321.9,912.2 1322.6,912.4 1323.3,915.0 1323.9,918.0 1324.6,916.9 1325.3,912.9 1325.9,909.6 1326.6,908.2 1327.2,909.5 1327.9,912.1 1328.6,913.7 1329.2,913.5 1329.9,911.8 1330.6,910.6 1331.2,911.0 1331.9,912.6 1332.5,913.9 1333.2,914.1 1333.9,913.9 1334.5,914.5 1335.2,916.2 1335.9,918.3 1336.5,920.9 1337.2,923.2 1337.8,923.2 1338.5,920.9 1339.2,918.9 1339.8,918.4 1340.5,917.3"/><polyline stroke="#a871cf" points="180.7,817.2 181.4,812.1 182.0,804.4 182.7,794.9 183.4,779.8 184.0,770.2 184.7,778.1 185.3,784.5 186.0,778.3 186.7,777.5 187.3,780.5 188.0,776.8 188.7,775.5 189.3,778.0 190.0,773.6 190.6,755.7 191.3,727.3 192.0,702.9 192.6,689.0 193.3,680.0 194.0,684.0 194.6,705.0 195.3,728.0 195.9,750.6 196.6,772.5 197.3,783.6 197.9,784.2 198.6,786.5 199.3,792.5 199.9,793.3 200.6,789.7 201.2,787.7 201.9,787.5 202.6,786.7 203.2,782.2 203.9,779.4 204.6,786.7 205.2,799.1 205.9,811.3 206.5,820.2 207.2,816.9 207.9,803.5 208.5,793.4 209.2,796.6 209.9,810.5 210.5,813.8 211.2,802.9 211.8,801.7 212.5,809.7 213.2,815.6 213.8,828.6 214.5,842.8 215.2,840.0 215.8,824.8 216.5,815.9 217.2,821.4 217.8,828.8 218.5,831.7 219.1,832.7 219.8,827.6 220.5,813.8 221.1,804.0 221.8,811.3 222.5,827.6 223.1,835.1 223.8,833.3 224.4,834.1 225.1,834.9 225.8,822.6 226.4,803.1 227.1,799.2 227.8,805.4 228.4,807.5 229.1,818.6 229.7,837.8 230.4,841.1 231.1,828.6 231.7,817.6 232.4,814.0 233.1,808.1 233.7,789.1 234.4,765.3 235.0,757.5 235.7,762.0 236.4,752.6 237.0,734.0 237.7,727.2 238.4,721.6 239.0,707.6 239.7,696.8 240.3,701.5 241.0,722.2 241.7,744.7 242.3,755.8 243.0,759.8 243.7,770.9 244.3,795.9 245.0,818.4 245.6,820.8 246.3,817.5 247.0,829.0 247.6,841.9 248.3,836.7 249.0,822.1 249.6,815.7 250.3,817.1 251.0,816.2 251.6,817.3 252.3,820.3 252.9,811.4 253.6,794.2 254.3,787.4 254.9,794.0 255.6,802.8 256.3,810.6 256.9,821.5 257.6,832.6 258.2,836.7 258.9,829.3 259.6,813.2 260.2,801.4 260.9,801.5 261.6,804.3 262.2,809.0 262.9,819.5 263.5,834.2 264.2,845.3 264.9,845.7 265.5,848.7 266.2,857.6 266.9,853.2 267.5,840.9 268.2,840.6 268.8,846.8 269.5,845.8 270.2,837.4 270.8,829.0 271.5,829.3 272.2,836.6 272.8,839.0 273.5,831.0 274.1,821.5 274.8,820.5 275.5,828.2 276.1,840.6 276.8,848.8 277.5,844.8 278.1,836.9 278.8,839.6 279.4,849.9 280.1,853.2 280.8,846.6 281.4,840.3 282.1,837.0 282.8,831.9 283.4,823.9 284.1,814.9 284.8,806.7 285.4,801.8 286.1,803.1 286.7,812.3 287.4,822.8 288.1,826.7 288.7,825.3 289.4,821.4 290.1,815.3 290.7,814.0 291.4,817.3 292.0,807.7 292.7,781.7 293.4,756.4 294.0,738.2 294.7,719.8 295.4,702.5 296.0,702.2 296.7,720.8 297.3,747.6 298.0,786.4 298.7,842.4 299.3,881.9 300.0,870.1 300.7,837.2 301.3,825.0 302.0,832.3 302.6,846.1 303.3,855.0 304.0,853.3 304.6,850.5 305.3,851.9 306.0,854.3 306.6,855.1 307.3,856.0 307.9,861.6 308.6,866.8 309.3,864.0 309.9,856.3 310.6,854.8 311.3,861.6 311.9,864.7 312.6,860.5 313.2,856.0 313.9,854.1 314.6,858.0 315.2,863.7 315.9,861.7 316.6,853.4 317.2,847.2 317.9,843.2 318.6,837.4 319.2,838.5 319.9,853.1 320.5,869.9 321.2,878.5 321.9,879.2 322.5,876.4 323.2,874.2 323.9,873.3 324.5,875.7 325.2,878.0 325.8,866.8 326.5,847.6 327.2,839.6 327.8,841.6 328.5,842.4 329.2,843.4 329.8,851.6 330.5,864.6 331.1,874.2 331.8,877.4 332.5,878.5 333.1,878.7 333.8,875.8 334.5,870.5 335.1,866.0 335.8,865.6 336.4,866.1 337.1,859.4 337.8,849.9 338.4,845.7 339.1,843.2 339.8,841.4 340.4,845.1 341.1,856.3 341.7,868.1 342.4,873.6 343.1,876.5 343.7,880.0 344.4,882.5 345.1,884.3 345.7,882.0 346.4,875.7 347.0,873.7 347.7,877.4 348.4,880.4 349.0,879.5 349.7,876.9 350.4,874.3 351.0,871.8 351.7,868.3 352.4,863.6 353.0,861.4 353.7,864.5 354.3,869.4 355.0,870.0 355.7,867.9 356.3,870.8 357.0,882.0 357.7,894.4 358.3,893.4 359.0,878.1 359.6,862.6 360.3,855.8 361.0,857.9 361.6,865.1 362.3,872.4 363.0,874.6 363.6,871.2 364.3,867.4 364.9,864.2 365.6,861.4 366.3,860.0 366.9,862.8 367.6,872.5 368.3,885.2 368.9,888.6 369.6,875.0 370.2,856.7 370.9,845.2 371.6,836.0 372.2,826.6 372.9,818.5 373.6,811.8 374.2,802.4 374.9,788.2 375.5,779.6 376.2,785.0 376.9,798.7 377.5,815.6 378.2,838.6 378.9,867.7 379.5,888.6 380.2,890.2 380.8,878.7 381.5,866.3 382.2,863.0 382.8,867.9 383.5,874.9 384.2,879.9 384.8,879.4 385.5,874.5 386.2,871.0 386.8,872.7 387.5,878.5 388.1,882.3 388.8,879.4 389.5,873.3 390.1,872.8 390.8,877.6 391.5,878.1 392.1,873.3 392.8,872.2 393.4,878.2 394.1,885.8 394.8,888.6 395.4,887.8 396.1,887.7 396.8,885.9 397.4,880.8 398.1,879.0 398.7,883.1 399.4,886.1 400.1,883.6 400.7,881.5 401.4,882.1 402.1,879.7 402.7,876.3 403.4,874.9 404.0,873.1 404.7,870.4 405.4,868.0 406.0,867.1 406.7,865.8 407.4,864.0 408.0,866.7 408.7,875.3 409.3,883.9 410.0,884.2 410.7,877.6 411.3,873.2 412.0,873.5 412.7,876.3 413.3,879.8 414.0,882.0 414.6,882.5 415.3,882.0 416.0,882.2 416.6,880.6 417.3,875.5 418.0,873.4 418.6,876.5 419.3,876.8 420.0,872.4 420.6,868.0 421.3,865.9 421.9,867.6 422.6,869.7 423.3,868.1 423.9,866.2 424.6,868.7 425.3,875.0 425.9,882.8 426.6,887.4 427.2,882.7 427.9,872.8 428.6,867.1 429.2,867.1 429.9,869.3 430.6,871.8 431.2,873.5 431.9,874.3 432.5,874.6 433.2,874.6 433.9,873.1 434.5,870.0 435.2,865.6 435.9,858.2 436.5,847.0 437.2,831.3 437.8,812.2 438.5,787.3 439.2,748.6 439.8,698.0 440.5,651.9 441.2,628.5 441.8,636.7 442.5,670.7 443.1,714.7 443.8,757.0 444.5,796.2 445.1,830.3 445.8,853.2 446.5,866.5 447.1,877.5 447.8,885.0 448.4,883.6 449.1,878.6 449.8,875.2 450.4,872.1 451.1,869.1 451.8,864.8 452.4,857.8 453.1,850.2 453.8,842.0 454.4,834.1 455.1,834.7 455.7,847.0 456.4,859.7 457.1,863.9 457.7,864.6 458.4,870.7 459.1,880.7 459.7,890.2 460.4,897.0 461.0,898.8 461.7,896.4 462.4,896.7 463.0,899.9 463.7,898.9 464.4,892.1 465.0,882.1 465.7,870.7 466.3,858.9 467.0,849.4 467.7,844.9 468.3,847.2 469.0,853.9 469.7,855.7 470.3,846.1 471.0,823.0 471.6,784.8 472.3,726.9 473.0,646.1 473.6,553.8 474.3,475.9 475.0,439.0 475.6,456.6 476.3,516.1 476.9,591.4 477.6,667.3 478.3,748.3 478.9,847.1 479.6,918.9 480.3,906.7 480.9,871.0 481.6,862.9 482.2,869.2 482.9,875.5 483.6,881.2 484.2,888.4 484.9,892.6 485.6,891.0 486.2,890.2 486.9,894.8 487.5,900.3 488.2,899.7 488.9,892.6 489.5,888.1 490.2,889.3 490.9,891.8 491.5,892.4 492.2,891.2 492.9,889.6 493.5,887.9 494.2,885.7 494.8,883.7 495.5,885.0 496.2,889.5 496.8,893.4 497.5,897.3 498.2,901.2 498.8,900.9 499.5,896.4 500.1,891.6 500.8,885.4 501.5,875.7 502.1,862.0 502.8,841.8 503.5,815.6 504.1,788.9 504.8,769.6 505.4,763.8 506.1,772.4 506.8,792.8 507.4,818.0 508.1,841.4 508.8,860.9 509.4,874.8 510.1,881.2 510.7,883.3 511.4,884.9 512.1,887.4 512.7,891.9 513.4,896.2 514.1,899.5 514.7,902.0 515.4,902.6 516.0,900.8 516.7,897.7 517.4,893.4 518.0,888.2 518.7,885.9 519.4,885.7 520.0,882.2 520.7,875.4 521.3,865.7 522.0,854.0 522.7,842.6 523.3,827.4 524.0,799.0 524.7,746.1 525.3,660.2 526.0,541.1 526.7,394.7 527.3,238.5 528.0,109.4 528.6,57.3 529.3,108.9 530.0,238.1 530.6,394.7 531.3,540.6 532.0,658.1 532.6,743.2 533.3,809.3 533.9,881.5 534.6,928.3 535.3,905.4 535.9,872.1 536.6,865.9 537.3,864.3 537.9,860.0 538.6,859.0 539.2,856.1 539.9,843.8 540.6,827.9 541.2,818.0 541.9,815.9 542.6,821.0 543.2,833.6 543.9,850.1 544.5,864.2 545.2,873.0 545.9,876.9 546.5,874.6 547.2,867.7 547.9,858.8 548.5,845.0 549.2,822.5 549.8,793.0 550.5,762.4 551.2,735.4 551.8,717.0 552.5,717.0 553.2,739.0 553.8,772.9 554.5,806.1 555.1,830.0 555.8,840.8 556.5,842.5 557.1,841.0 557.8,834.8 558.5,821.7 559.1,805.5 559.8,792.9 560.5,789.0 561.1,794.1 561.8,805.9 562.4,823.7 563.1,844.3 563.8,861.5 564.4,874.3 565.1,884.6 565.8,890.5 566.4,892.2 567.1,893.0 567.7,894.8 568.4,896.8 569.1,899.1 569.7,903.0 570.4,905.9 571.1,904.7 571.7,901.0 572.4,897.5 573.0,892.8 573.7,888.4 574.4,886.8 575.0,887.5 575.7,887.6 576.4,886.4 577.0,884.2 577.7,878.7 578.3,868.7 579.0,853.7 579.7,831.4 580.3,798.8 581.0,750.0 581.7,679.9 582.3,592.5 583.0,497.1 583.6,407.2 584.3,347.3 585.0,343.4 585.6,398.7 586.3,490.6 587.0,589.8 587.6,676.0 588.3,743.7 588.9,804.7 589.6,877.3 590.3,927.3 590.9,909.4 591.6,875.9 592.3,863.6 592.9,859.5 593.6,857.1 594.3,853.3 594.9,844.2 595.6,832.4 596.2,824.7 596.9,824.8 597.6,832.3 598.2,841.9 598.9,848.7 599.6,853.4 600.2,857.2 600.9,856.5 601.5,848.2 602.2,834.0 602.9,817.9 603.5,805.8 604.2,804.5 604.9,815.5 605.5,832.7 606.2,850.4 606.8,866.5 607.5,880.1 608.2,890.6 608.8,898.3 609.5,903.3 610.2,905.8 610.8,907.8 611.5,909.0 612.1,908.4 612.8,906.6 613.5,905.1 614.1,906.1 614.8,908.6 615.5,909.9 616.1,908.7 616.8,906.7 617.4,906.3 618.1,907.4 618.8,907.9 619.4,905.9 620.1,903.3 620.8,902.7 621.4,903.4 622.1,905.0 622.7,907.6 623.4,908.3 624.1,905.9 624.7,903.6 625.4,903.6 626.1,904.6 626.7,905.2 627.4,907.2 628.1,911.0 628.7,912.6 629.4,909.5 630.0,903.1 630.7,895.0 631.4,884.8 632.0,871.7 632.7,857.1 633.4,844.0 634.0,834.7 634.7,832.1 635.3,836.9 636.0,845.3 636.7,854.9 637.3,864.6 638.0,870.1 638.7,870.0 639.3,868.3 640.0,866.6 640.6,865.1 641.3,865.4 642.0,868.8 642.6,874.6 643.3,880.9 644.0,886.5 644.6,891.4 645.3,894.9 645.9,896.1 646.6,897.9 647.3,901.7 647.9,903.8 648.6,904.4 649.3,906.2 649.9,908.1 650.6,908.8 651.2,910.0 651.9,912.3 652.6,913.4 653.2,912.1 653.9,909.6 654.6,907.2 655.2,906.4 655.9,907.5 656.5,908.1 657.2,907.2 657.9,906.1 658.5,906.7 659.2,909.0 659.9,910.5 660.5,909.4 661.2,906.7 661.9,905.5 662.5,908.1 663.2,912.0 663.8,913.5 664.5,912.5 665.2,910.8 665.8,908.5 666.5,906.4 667.2,906.1 667.8,906.9 668.5,906.0 669.1,902.1 669.8,895.3 670.5,885.3 671.1,872.8 671.8,857.7 672.5,837.9 673.1,814.9 673.8,795.2 674.4,786.0 675.1,788.4 675.8,799.0 676.4,815.8 677.1,835.9 677.8,854.2 678.4,868.5 679.1,880.0 679.7,890.1 680.4,898.4 681.1,904.2 681.7,908.1 682.4,909.7 683.1,909.2 683.7,907.3 684.4,903.8 685.0,901.3 685.7,903.9 686.4,909.5 687.0,913.3 687.7,914.0 688.4,913.0 689.0,909.9 689.7,904.1 690.3,897.2 691.0,888.5 691.7,879.2 692.3,871.2 693.0,861.6 693.7,849.1 694.3,835.5 695.0,822.7 695.7,813.5 696.3,812.6 697.0,822.0 697.6,837.4 698.3,852.3 699.0,863.7 699.6,871.1 700.3,875.1 701.0,876.2 701.6,874.3 702.3,869.4 702.9,860.9 703.6,850.5 704.3,840.7 704.9,832.1 705.6,827.0 706.3,828.6 706.9,835.3 707.6,844.5 708.2,855.4 708.9,867.4 709.6,880.1 710.2,891.0 710.9,897.3 711.6,899.4 712.2,899.6 712.9,901.0 713.5,904.8 714.2,908.3 714.9,909.8 715.5,910.7 716.2,912.4 716.9,912.7 717.5,911.4 718.2,911.7 718.8,914.6 719.5,918.1 720.2,919.5 720.8,919.1 721.5,920.4 722.2,922.8 722.8,922.5 723.5,918.6 724.1,914.0 724.8,912.1 725.5,910.4 726.1,907.4 726.8,906.8 727.5,909.5 728.1,909.6 728.8,905.8 729.5,902.0 730.1,898.7 730.8,893.4 731.4,885.8 732.1,878.3 732.8,871.9 733.4,864.9 734.1,856.7 734.8,849.6 735.4,845.1 736.1,843.9 736.7,846.9 737.4,852.5 738.1,857.6 738.7,860.6 739.4,861.9 740.1,863.5 740.7,866.0 741.4,866.9 742.0,866.0 742.7,865.7 743.4,868.2 744.0,872.8 744.7,877.2 745.4,880.8 746.0,884.5 746.7,887.7 747.3,889.7 748.0,891.8 748.7,892.7 749.3,889.3 750.0,883.2 750.7,876.3 751.3,868.0 752.0,858.4 752.6,849.7 753.3,844.2 754.0,843.9 754.6,849.8 755.3,859.7 756.0,869.5 756.6,877.9 757.3,885.6 757.9,891.5 758.6,894.8 759.3,896.6 759.9,897.7 760.6,898.1 761.3,897.7 761.9,895.3 762.6,890.5 763.3,883.6 763.9,876.4 764.6,869.7 765.2,861.4 765.9,852.5 766.6,848.6 767.2,851.9 767.9,859.3 768.6,867.1 769.2,874.4 769.9,881.2 770.5,888.0 771.2,895.1 771.9,900.9 772.5,904.6 773.2,907.9 773.9,911.3 774.5,913.7 775.2,913.7 775.8,913.0 776.5,913.0 777.2,912.5 777.8,911.3 778.5,910.0 779.2,909.9 779.8,911.8 780.5,914.3 781.1,916.7 781.8,918.1 782.5,916.2 783.1,911.5 783.8,906.7 784.5,903.1 785.1,900.2 785.8,895.8 786.4,888.7 787.1,879.3 787.8,868.3 788.4,853.9 789.1,833.8 789.8,808.8 790.4,781.6 791.1,755.5 791.7,735.1 792.4,724.4 793.1,724.9 793.7,736.3 794.4,756.2 795.1,780.4 795.7,806.1 796.4,831.3 797.1,852.4 797.7,866.7 798.4,875.7 799.0,881.7 799.7,886.0 800.4,889.5 801.0,892.3 801.7,893.2 802.4,891.5 803.0,888.9 803.7,886.6 804.3,882.8 805.0,875.8 805.7,866.2 806.3,854.4 807.0,838.5 807.7,820.2 808.3,804.9 809.0,796.0 809.6,794.4 810.3,798.8 811.0,807.3 811.6,819.9 812.3,834.4 813.0,844.9 813.6,848.2 814.3,845.6 814.9,839.3 815.6,829.8 816.3,818.8 816.9,809.8 817.6,805.1 818.3,804.5 818.9,808.8 819.6,818.5 820.2,831.8 820.9,845.4 821.6,857.3 822.2,868.5 822.9,879.6 823.6,888.7 824.2,893.5 824.9,894.8 825.5,896.2 826.2,899.7 826.9,902.3 827.5,901.7 828.2,900.1 828.9,898.4 829.5,896.0 830.2,894.3 830.9,894.1 831.5,893.9 832.2,892.2 832.8,888.3 833.5,882.0 834.2,874.4 834.8,869.3 835.5,868.4 836.2,870.3 836.8,873.0 837.5,875.2 838.1,877.7 838.8,882.0 839.5,887.0 840.1,891.8 840.8,895.9 841.5,898.6 842.1,900.9 842.8,903.5 843.4,903.5 844.1,900.1 844.8,895.4 845.4,890.4 846.1,885.3 846.8,880.4 847.4,875.9 848.1,873.1 848.7,873.4 849.4,876.2 850.1,879.5 850.7,880.8 851.4,878.8 852.1,875.1 852.7,871.4 853.4,867.8 854.0,865.0 854.7,864.0 855.4,863.9 856.0,863.4 856.7,863.6 857.4,866.5 858.0,872.1 858.7,878.5 859.3,884.0 860.0,888.5 860.7,891.2 861.3,890.3 862.0,886.6 862.7,882.5 863.3,877.6 864.0,869.9 864.7,860.9 865.3,852.7 866.0,845.1 866.6,838.1 867.3,832.7 868.0,830.7 868.6,834.5 869.3,842.9 870.0,851.6 870.6,859.0 871.3,866.9 871.9,874.9 872.6,882.5 873.3,890.3 873.9,897.9 874.6,904.3 875.3,908.1 875.9,909.0 876.6,908.0 877.2,905.5 877.9,903.1 878.6,903.5 879.2,905.6 879.9,905.9 880.6,903.5 881.2,902.2 881.9,903.1 882.5,903.8 883.2,903.4 883.9,901.8 884.5,898.9 885.2,893.4 885.9,883.1 886.5,866.7 887.2,844.9 887.8,820.8 888.5,795.5 889.2,767.5 889.8,738.2 890.5,710.9 891.2,690.6 891.8,682.0 892.5,687.6 893.1,705.6 893.8,730.3 894.5,756.6 895.1,781.6 895.8,802.9 896.5,820.1 897.1,833.4 897.8,840.5 898.5,840.0 899.1,834.5 899.8,828.2 900.4,824.1 901.1,821.9 901.8,820.3 902.4,821.2 903.1,826.7 903.8,835.7 904.4,845.3 905.1,854.2 905.7,863.4 906.4,874.0 907.1,884.9 907.7,893.4 908.4,896.9 909.1,897.2 909.7,898.8 910.4,900.4 911.0,897.5 911.7,891.9 912.4,888.0 913.0,885.3 913.7,881.3 914.4,876.0 915.0,869.4 915.7,862.6 916.3,859.0 917.0,860.0 917.7,863.7 918.3,867.6 919.0,869.8 919.7,870.7 920.3,874.0 921.0,880.3 921.6,887.0 922.3,891.9 923.0,893.6 923.6,893.1 924.3,893.3 925.0,894.6 925.6,895.5 926.3,894.0 926.9,891.0 927.6,889.3 928.3,889.8 928.9,892.0 929.6,894.4 930.3,896.7 930.9,899.4 931.6,902.8 932.3,905.4 932.9,906.0 933.6,905.8 934.2,907.0 934.9,908.2 935.6,906.9 936.2,903.3 936.9,899.5 937.6,897.1 938.2,895.5 938.9,893.7 939.5,892.2 940.2,889.8 940.9,885.5 941.5,880.2 942.2,877.2 942.9,878.3 943.5,882.3 944.2,886.4 944.8,889.7 945.5,893.4 946.2,897.9 946.8,902.0 947.5,904.0 948.2,902.8 948.8,899.4 949.5,896.2 950.1,893.8 950.8,891.7 951.5,889.7 952.1,887.7 952.8,884.8 953.5,880.7 954.1,878.2 954.8,879.3 955.4,883.4 956.1,888.1 956.8,891.8 957.4,894.2 958.1,896.1 958.8,898.0 959.4,899.8 960.1,901.4 960.7,902.4 961.4,902.7 962.1,902.7 962.7,901.7 963.4,899.5 964.1,897.7 964.7,895.9 965.4,891.5 966.1,885.2 966.7,880.9 967.4,879.2 968.0,877.3 968.7,875.0 969.4,874.5 970.0,876.8 970.7,880.9 971.4,886.5 972.0,894.5 972.7,903.5 973.3,909.2 974.0,912.7 974.7,916.0 975.3,916.5 976.0,913.1 976.7,909.8 977.3,910.5 978.0,913.6 978.6,914.8 979.3,913.3 980.0,911.4 980.6,909.3 981.3,906.9 982.0,905.4 982.6,905.8 983.3,906.6 983.9,907.0 984.6,908.5 985.3,911.4 985.9,914.4 986.6,916.7 987.3,916.7 987.9,913.9 988.6,910.9 989.2,909.1 989.9,908.2 990.6,907.3 991.2,906.2 991.9,904.8 992.6,903.0 993.2,901.1 993.9,899.4 994.5,897.0 995.2,894.0 995.9,889.8 996.5,883.6 997.2,875.1 997.9,865.5 998.5,856.6 999.2,847.0 999.9,836.6 1000.5,829.1 1001.2,825.1 1001.8,824.0 1002.5,828.7 1003.2,838.7 1003.8,849.0 1004.5,859.2 1005.2,870.0 1005.8,878.9 1006.5,884.6 1007.1,888.1 1007.8,891.4 1008.5,894.7 1009.1,896.5 1009.8,896.5 1010.5,896.3 1011.1,896.0 1011.8,895.9 1012.4,896.2 1013.1,895.6 1013.8,894.5 1014.4,893.5 1015.1,892.0 1015.8,890.1 1016.4,889.3 1017.1,890.7 1017.7,892.1 1018.4,893.0 1019.1,895.3 1019.7,897.3 1020.4,895.7 1021.1,892.6 1021.7,890.4 1022.4,888.3 1023.0,886.6 1023.7,886.9 1024.4,889.2 1025.0,891.0 1025.7,890.6 1026.4,890.1 1027.0,892.2 1027.7,896.7 1028.3,899.9 1029.0,900.1 1029.7,898.8 1030.3,898.2 1031.0,899.6 1031.7,900.6 1032.3,898.8 1033.0,895.5 1033.7,892.4 1034.3,889.1 1035.0,886.2 1035.6,884.2 1036.3,883.1 1037.0,882.9 1037.6,884.3 1038.3,888.1 1039.0,894.2 1039.6,901.1 1040.3,905.6 1040.9,907.4 1041.6,909.0 1042.3,910.9 1042.9,910.7 1043.6,908.0 1044.3,905.9 1044.9,906.0 1045.6,906.0 1046.2,904.4 1046.9,903.3 1047.6,902.7 1048.2,902.9 1048.9,904.0 1049.6,904.8 1050.2,905.5 1050.9,908.0 1051.5,912.1 1052.2,915.0 1052.9,915.4 1053.5,915.1 1054.2,915.0 1054.9,914.8 1055.5,914.0 1056.2,913.7 1056.8,914.5 1057.5,914.9 1058.2,914.3 1058.8,913.3 1059.5,910.5 1060.2,906.3 1060.8,901.5 1061.5,895.2 1062.1,889.1 1062.8,885.3 1063.5,882.9 1064.1,880.9 1064.8,879.1 1065.5,877.4 1066.1,877.2 1066.8,879.4 1067.4,884.0 1068.1,890.0 1068.8,894.9 1069.4,896.2 1070.1,895.6 1070.8,895.7 1071.4,897.5 1072.1,898.9 1072.8,898.7 1073.4,898.3 1074.1,898.7 1074.7,899.1 1075.4,897.6 1076.1,894.5 1076.7,893.3 1077.4,895.2 1078.1,895.8 1078.7,894.6 1079.4,894.9 1080.0,897.7 1080.7,900.1 1081.4,899.1 1082.0,895.8 1082.7,893.6 1083.4,893.3 1084.0,893.8 1084.7,894.7 1085.3,896.8 1086.0,898.7 1086.7,898.8 1087.3,898.6 1088.0,900.6 1088.7,903.8 1089.3,904.7 1090.0,903.0 1090.6,902.5 1091.3,903.2 1092.0,901.0 1092.6,896.4 1093.3,893.1 1094.0,892.4 1094.6,894.5 1095.3,895.9 1095.9,894.3 1096.6,893.3 1097.3,895.3 1097.9,898.4 1098.6,900.6 1099.3,903.1 1099.9,906.9 1100.6,909.2 1101.2,908.6 1101.9,907.7 1102.6,908.2 1103.2,910.4 1103.9,913.2 1104.6,915.7 1105.2,916.5 1105.9,915.4 1106.6,914.4 1107.2,913.1 1107.9,911.3 1108.5,910.2 1109.2,909.3 1109.9,907.8 1110.5,905.6 1111.2,902.8 1111.9,899.8 1112.5,897.0 1113.2,893.8 1113.8,890.3 1114.5,887.5 1115.2,885.6 1115.8,882.6 1116.5,880.1 1117.2,879.9 1117.8,880.6 1118.5,882.0 1119.1,886.5 1119.8,894.7 1120.5,901.9 1121.1,904.8 1121.8,904.5 1122.5,903.0 1123.1,901.6 1123.8,901.1 1124.4,901.9 1125.1,902.6 1125.8,902.5 1126.4,901.0 1127.1,896.7 1127.8,892.8 1128.4,893.2 1129.1,895.2 1129.7,894.2 1130.4,890.8 1131.1,888.6 1131.7,887.1 1132.4,886.6 1133.1,890.5 1133.7,896.7 1134.4,899.6 1135.0,899.9 1135.7,901.1 1136.4,901.9 1137.0,900.9 1137.7,902.3 1138.4,907.0 1139.0,910.2 1139.7,908.6 1140.4,904.6 1141.0,902.7 1141.7,904.1 1142.3,906.3 1143.0,907.5 1143.7,909.1 1144.3,911.8 1145.0,912.5 1145.7,909.9 1146.3,907.4 1147.0,907.5 1147.6,909.0 1148.3,909.9 1149.0,910.3 1149.6,910.4 1150.3,908.9 1151.0,906.3 1151.6,903.4 1152.3,900.0 1152.9,896.5 1153.6,894.2 1154.3,892.6 1154.9,891.2 1155.6,891.0 1156.3,891.7 1156.9,892.2 1157.6,893.0 1158.2,894.9 1158.9,896.6 1159.6,897.1 1160.2,896.8 1160.9,896.1 1161.6,896.4 1162.2,897.8 1162.9,897.7 1163.5,896.7 1164.2,897.2 1164.9,898.7 1165.5,899.8 1166.2,900.6 1166.9,900.9 1167.5,902.2 1168.2,905.5 1168.8,909.0 1169.5,911.5 1170.2,913.7 1170.8,917.1 1171.5,919.8 1172.2,918.3 1172.8,913.2 1173.5,909.3 1174.2,908.2 1174.8,908.0 1175.5,907.3 1176.1,907.0 1176.8,908.3 1177.5,910.5 1178.1,911.7 1178.8,910.8 1179.5,908.7 1180.1,906.2 1180.8,902.4 1181.4,898.7 1182.1,897.0 1182.8,896.3 1183.4,899.0 1184.1,904.5 1184.8,906.6 1185.4,904.6 1186.1,902.3 1186.7,900.6 1187.4,900.1 1188.1,899.8 1188.7,897.8 1189.4,896.7 1190.1,899.7 1190.7,904.3 1191.4,905.9 1192.0,904.2 1192.7,902.7 1193.4,904.2 1194.0,906.0 1194.7,905.7 1195.4,905.0 1196.0,905.3 1196.7,905.0 1197.3,903.3 1198.0,901.2 1198.7,900.7 1199.3,902.2 1200.0,904.0 1200.7,904.6 1201.3,903.8 1202.0,902.4 1202.6,903.0 1203.3,905.6 1204.0,904.7 1204.6,898.4 1205.3,893.7 1206.0,893.3 1206.6,893.2 1207.3,890.5 1208.0,888.4 1208.6,889.3 1209.3,889.6 1209.9,888.7 1210.6,888.6 1211.3,889.6 1211.9,890.6 1212.6,890.8 1213.3,889.6 1213.9,888.3 1214.6,891.1 1215.2,897.5 1215.9,900.6 1216.6,898.3 1217.2,895.1 1217.9,892.4 1218.6,890.0 1219.2,890.6 1219.9,893.9 1220.5,895.8 1221.2,894.7 1221.9,892.4 1222.5,890.7 1223.2,890.7 1223.9,891.9 1224.5,891.8 1225.2,891.3 1225.8,892.5 1226.5,894.0 1227.2,894.2 1227.8,893.3 1228.5,891.7 1229.2,890.4 1229.8,888.3 1230.5,884.4 1231.1,881.2 1231.8,880.4 1232.5,879.9 1233.1,878.2 1233.8,878.5 1234.5,881.8 1235.1,884.8 1235.8,886.0 1236.4,886.5 1237.1,888.5 1237.8,892.2 1238.4,894.2 1239.1,892.6 1239.8,892.0 1240.4,896.4 1241.1,901.7 1241.8,903.1 1242.4,901.3 1243.1,900.5 1243.7,901.7 1244.4,902.0 1245.1,900.9 1245.7,899.7 1246.4,898.6 1247.1,897.9 1247.7,898.4 1248.4,899.0 1249.0,900.5 1249.7,904.4 1250.4,905.8 1251.0,903.4 1251.7,902.0 1252.4,902.1 1253.0,901.7 1253.7,901.9 1254.3,904.0 1255.0,906.4 1255.7,907.3 1256.3,905.8 1257.0,901.5 1257.7,896.4 1258.3,893.5 1259.0,892.6 1259.6,891.9 1260.3,891.2 1261.0,890.1 1261.6,887.5 1262.3,885.9 1263.0,887.1 1263.6,888.1 1264.3,888.4 1264.9,890.0 1265.6,892.3 1266.3,894.1 1266.9,894.8 1267.6,893.5 1268.3,892.9 1268.9,895.6 1269.6,899.9 1270.2,903.4 1270.9,904.5 1271.6,903.6 1272.2,900.3 1272.9,895.0 1273.6,891.0 1274.2,889.2 1274.9,887.5 1275.6,885.7 1276.2,885.1 1276.9,885.4 1277.5,885.0 1278.2,883.7 1278.9,882.6 1279.5,882.5 1280.2,882.6 1280.9,881.5 1281.5,879.0 1282.2,877.3 1282.8,879.8 1283.5,886.1 1284.2,891.5 1284.8,894.0 1285.5,896.5 1286.2,901.4 1286.8,906.2 1287.5,906.6 1288.1,901.6 1288.8,896.6 1289.5,895.1 1290.1,894.4 1290.8,892.6 1291.5,891.6 1292.1,893.3 1292.8,895.7 1293.4,895.1 1294.1,893.0 1294.8,892.3 1295.4,893.1 1296.1,894.5 1296.8,895.0 1297.4,896.7 1298.1,901.0 1298.7,904.7 1299.4,907.0 1300.1,910.3 1300.7,914.4 1301.4,914.6 1302.1,910.1 1302.7,905.5 1303.4,903.9 1304.0,903.0 1304.7,901.2 1305.4,900.6 1306.0,899.6 1306.7,896.2 1307.4,894.0 1308.0,895.6 1308.7,897.5 1309.4,895.5 1310.0,891.5 1310.7,890.0 1311.3,891.3 1312.0,893.4 1312.7,895.4 1313.3,897.6 1314.0,900.3 1314.7,903.2 1315.3,906.0 1316.0,908.2 1316.6,908.8 1317.3,905.3 1318.0,898.8 1318.6,895.1 1319.3,895.8 1320.0,896.7 1320.6,896.6 1321.3,896.4 1321.9,895.1 1322.6,892.8 1323.3,890.9 1323.9,890.2 1324.6,891.0 1325.3,892.1 1325.9,893.3 1326.6,894.7 1327.2,894.8 1327.9,894.4 1328.6,894.5 1329.2,893.7 1329.9,893.0 1330.6,893.7 1331.2,895.2 1331.9,896.4 1332.5,898.0 1333.2,900.7 1333.9,902.2 1334.5,902.2 1335.2,901.7 1335.9,901.0 1336.5,902.6 1337.2,907.3 1337.8,911.2 1338.5,910.8 1339.2,909.0 1339.8,910.1 1340.5,910.6"/></g></g><rect x="815.5" y="21" width="525" height="276" fill="#fff"/><path d="M816.2,21V296" stroke="#d0d0d0" stroke-width="2.4"/><path d="M815,297H1340.5" stroke="#151515" stroke-width="2"/><path d="M820.5,50.2H920" stroke="#585858" stroke-width="1.8"/><text x="931.5" y="64.8" font-family='"Liberation Sans", sans-serif' font-size="44.3" font-weight="normal" font-style="normal" text-anchor="start" >non-treated</text><path d="M820.5,103.8H920" stroke="#d46a78" stroke-width="1.8"/><text x="944.3" y="118.6" font-family='"Liberation Sans", sans-serif' font-size="44.3" font-weight="normal" font-style="normal" text-anchor="start" >F=1.66 J/cm², N=5</text><path d="M820.5,158.2H920" stroke="#36687f" stroke-width="1.8"/><text x="944.3" y="173.0" font-family='"Liberation Sans", sans-serif' font-size="44.3" font-weight="normal" font-style="normal" text-anchor="start" >F=1.66 J/cm², N=10</text><path d="M820.5,212.3H920" stroke="#3a8466" stroke-width="1.8"/><text x="944.3" y="226.8" font-family='"Liberation Sans", sans-serif' font-size="44.3" font-weight="normal" font-style="normal" text-anchor="start" >F=2.07 J/cm², N=5</text><path d="M820.5,267H920" stroke="#9282a8" stroke-width="1.8"/><text x="944.3" y="281.0" font-family='"Liberation Sans", sans-serif' font-size="44.3" font-weight="normal" font-style="normal" text-anchor="start" >F=2.07 J/cm²,N=10</text><rect x="180.7" y="20.6" width="1159.8" height="908.4" fill="none" stroke="#000" stroke-width="2.7"/><path d="M164.5,929.0H180.7 M172.5,844.9H180.7 M164.5,760.7H180.7 M172.5,676.6H180.7 M164.5,592.5H180.7 M172.5,508.3H180.7 M164.5,424.2H180.7 M172.5,340.0H180.7 M164.5,255.9H180.7 M172.5,171.8H180.7 M164.5,87.6H180.7 M180.7,929.0V946 M263.5,929.0V937 M346.4,929.0V946 M429.2,929.0V937 M512.1,929.0V946 M594.9,929.0V937 M677.8,929.0V946 M760.6,929.0V937 M843.4,929.0V946 M926.3,929.0V937 M1009.1,929.0V946 M1092.0,929.0V937 M1174.8,929.0V946 M1257.7,929.0V937 M1340.5,929.0V946" stroke="#000" stroke-width="2.6" fill="none"/><text x="151.5" y="941.6" font-family='"Liberation Sans", sans-serif' font-size="36" font-weight="bold" font-style="normal" text-anchor="end" >0</text><text x="151.5" y="773.3" font-family='"Liberation Sans", sans-serif' font-size="36" font-weight="bold" font-style="normal" text-anchor="end" >50</text><text x="151.5" y="605.1" font-family='"Liberation Sans", sans-serif' font-size="36" font-weight="bold" font-style="normal" text-anchor="end" >100</text><text x="151.5" y="436.8" font-family='"Liberation Sans", sans-serif' font-size="36" font-weight="bold" font-style="normal" text-anchor="end" >150</text><text x="151.5" y="268.5" font-family='"Liberation Sans", sans-serif' font-size="36" font-weight="bold" font-style="normal" text-anchor="end" >200</text><text x="151.5" y="100.2" font-family='"Liberation Sans", sans-serif' font-size="36" font-weight="bold" font-style="normal" text-anchor="end" >250</text><text x="180.7" y="985" font-family='"Liberation Sans", sans-serif' font-size="36" font-weight="bold" font-style="normal" text-anchor="middle" >10</text><text x="346.4" y="985" font-family='"Liberation Sans", sans-serif' font-size="36" font-weight="bold" font-style="normal" text-anchor="middle" >20</text><text x="512.1" y="985" font-family='"Liberation Sans", sans-serif' font-size="36" font-weight="bold" font-style="normal" text-anchor="middle" >30</text><text x="677.8" y="985" font-family='"Liberation Sans", sans-serif' font-size="36" font-weight="bold" font-style="normal" text-anchor="middle" >40</text><text x="843.4" y="985" font-family='"Liberation Sans", sans-serif' font-size="36" font-weight="bold" font-style="normal" text-anchor="middle" >50</text><text x="1009.1" y="985" font-family='"Liberation Sans", sans-serif' font-size="36" font-weight="bold" font-style="normal" text-anchor="middle" >60</text><text x="1174.8" y="985" font-family='"Liberation Sans", sans-serif' font-size="36" font-weight="bold" font-style="normal" text-anchor="middle" >70</text><text x="1340.5" y="985" font-family='"Liberation Sans", sans-serif' font-size="36" font-weight="bold" font-style="normal" text-anchor="middle" >80</text><text x="759.7" y="1055.5" font-family='"Liberation Sans", sans-serif' font-size="44.6" font-weight="bold" font-style="normal" text-anchor="middle" >2θ (degree)</text><g transform="translate(44.8,444.5) rotate(-90)"><text x="0" y="0" font-family='"Liberation Sans", sans-serif' font-size="44.5" font-weight="bold" font-style="normal" text-anchor="middle" >Counts</text></g><g transform="translate(183.5,73.1) scale(1.08,1)"><text x="0" y="0" font-family='"Liberation Serif", serif' font-size="52">β</text></g><path d="M211.5,59.4H237.7" stroke="#000" stroke-width="2.3"/><g transform="translate(238.7,72.8) scale(0.837,1)"><text x="0" y="0" font-family='"Liberation Sans", sans-serif' font-size="55.5" font-weight="normal" font-style="normal" text-anchor="start" >TCP</text></g><text x="478.5" y="54.800000000000004" font-family='"Liberation Sans", sans-serif' font-size="31" font-weight="normal" font-style="italic" text-anchor="start" >α-TCP</text><text x="537.6" y="325.5" font-family='"Liberation Sans", sans-serif' font-size="31" font-weight="normal" font-style="italic" text-anchor="start" >α-TCP</text><text x="426.8" y="430.3" font-family='"Liberation Sans", sans-serif' font-size="31" font-weight="normal" font-style="italic" text-anchor="start" >α-TCP</text><text x="381.3" y="621.0" font-family='"Liberation Sans", sans-serif' font-size="31" font-weight="normal" font-style="italic" text-anchor="start" >β-TCP</text><text x="260.5" y="686.9000000000001" font-family='"Liberation Sans", sans-serif' font-size="31" font-weight="normal" font-style="italic" text-anchor="start" >α-TCP</text><text x="485.3" y="753.5" font-family='"Liberation Sans", sans-serif' font-size="31" font-weight="normal" font-style="italic" text-anchor="start" >β-TCP</text><text x="654.7" y="775.7" font-family='"Liberation Sans", sans-serif' font-size="31" font-weight="normal" font-style="italic" text-anchor="start" >β-TCP</text><text x="328.5" y="805.1" font-family='"Liberation Sans", sans-serif' font-size="31" font-weight="normal" font-style="italic" text-anchor="start" >β-TCP</text></svg>
</body></html>
